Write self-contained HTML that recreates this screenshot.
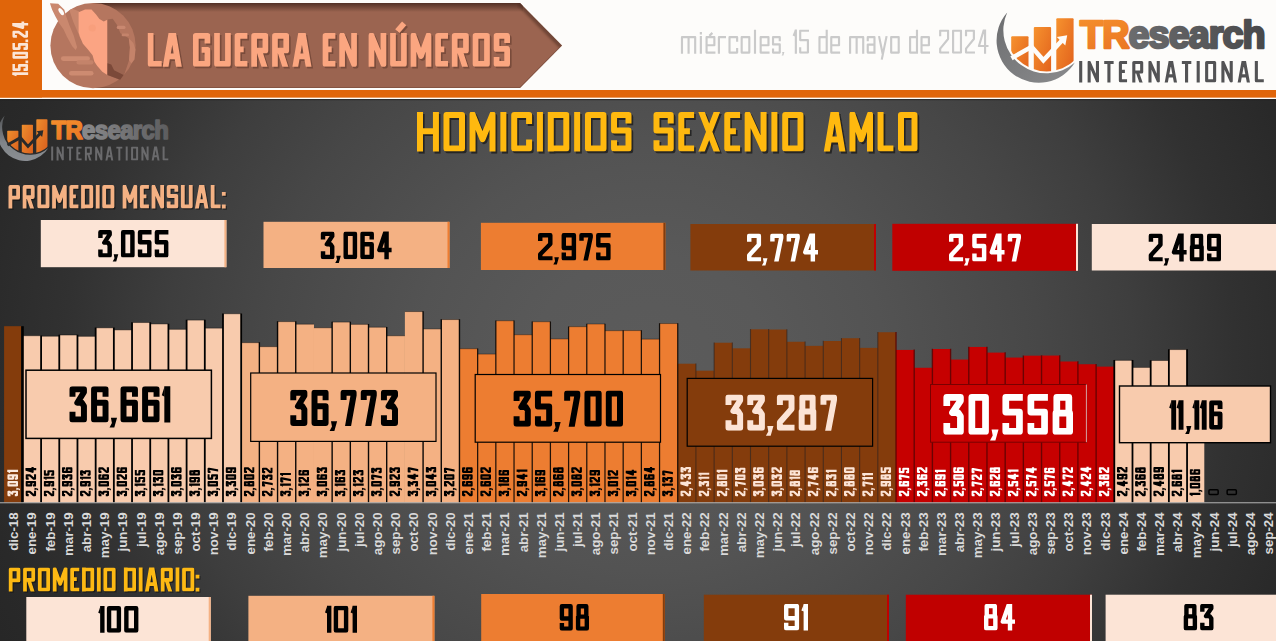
<!DOCTYPE html><html><head><meta charset="utf-8"><title>Homicidios Sexenio AMLO</title>
<style>html,body{margin:0;padding:0;background:#2b2b2b;overflow:hidden}svg{display:block}text{font-family:"Liberation Sans",sans-serif}</style></head><body>
<svg width="1276" height="641" viewBox="0 0 1276 641">
<defs>
<radialGradient id="pg" gradientUnits="userSpaceOnUse" cx="650" cy="360" r="780" gradientTransform="translate(0 360) scale(1 .9) translate(0 -360)">
<stop offset="0" stop-color="#5b5b5b"/><stop offset=".15" stop-color="#595959"/><stop offset=".3" stop-color="#535353"/><stop offset=".5" stop-color="#474747"/><stop offset=".62" stop-color="#3e3e3e"/><stop offset=".75" stop-color="#313131"/><stop offset=".87" stop-color="#292929"/><stop offset="1" stop-color="#242424"/></radialGradient>
<linearGradient id="bt" x1="0" y1="0" x2="0" y2="1"><stop offset="0" stop-color="#4e2d22" stop-opacity=".95"/><stop offset="1" stop-color="#4e2d22" stop-opacity="0"/></linearGradient>
<linearGradient id="og" x1="0" y1="0" x2="1" y2="1"><stop offset="0" stop-color="#f6922e"/><stop offset="1" stop-color="#e1601c"/></linearGradient>
<linearGradient id="cg" x1="0" y1="0" x2="1" y2="1"><stop offset="0" stop-color="#6d6e70"/><stop offset="1" stop-color="#8a8b8d"/></linearGradient>
<linearGradient id="cg2" x1="0" y1="0" x2="0" y2="1"><stop offset="0" stop-color="#55575a"/><stop offset=".6" stop-color="#84888d"/><stop offset="1" stop-color="#8e9297"/></linearGradient>
<linearGradient id="tg" gradientUnits="userSpaceOnUse" x1="80" y1="0" x2="170" y2="0"><stop offset="0" stop-color="#8b8b8d"/><stop offset="1" stop-color="#5c5c5e"/></linearGradient>
<linearGradient id="tg1" gradientUnits="userSpaceOnUse" x1="1125" y1="0" x2="1265" y2="0"><stop offset="0" stop-color="#6c6d6f"/><stop offset="1" stop-color="#48484a"/></linearGradient>
<filter id="sb" x="-5%" y="-30%" width="110%" height="170%"><feGaussianBlur stdDeviation=".7"/></filter>
<filter id="sh" x="-5%" y="-20%" width="110%" height="150%"><feGaussianBlur stdDeviation="1.1"/></filter>
<clipPath id="ban"><path d="M93 3H520L562 45.5L520 88H93Z"/></clipPath>
</defs>
<rect x="0" y="0" width="1276" height="99" fill="#fdfcfa"/><rect x="0" y="0" width="42" height="98" fill="#e0650a"/><rect x="0" y="90" width="1276" height="7.8" fill="#e0650a"/><path d="M93 3H520L562 45.5L520 88H93Z" fill="#9b6450"/><g clip-path="url(#ban)"><rect x="93" y="3" width="430" height="9" fill="url(#bt)"/><path d="M520 3L562 45.5" stroke="#4e2d22" stroke-width="7" opacity=".55" filter="url(#sh)"/><path d="M93 88H520L562 45.5" fill="none" stroke="#6b4031" stroke-width="1.6" opacity=".6"/></g><circle cx="93" cy="45.6" r="42.6" fill="#b5765f"/><polygon points="49.93,3.32 58.23,3.84 64.34,9.78 66.26,16.59 69.41,25.33 73.77,35.81 77.09,47.16 75.69,49.96 72.2,46.29 66.96,36.68 63.47,29.26 59.1,22.88 55.43,16.59 52.11,9.78" fill="#ca886e" /><ellipse cx="61.2" cy="11.62" rx="1.9" ry="4.1" transform="rotate(-33 61.2 11.62)" fill="#fdfcfa"/><polygon points="69.41,10.31 72.2,8.73 79.01,11.18 79.19,34.93 83.12,41.05 80.5,38.43 76.74,29.69 73.25,21.83 70.89,14.85" fill="#c8866c" /><polygon points="78.62,12.21 85.08,9.48 91.54,9.48 95.85,14.36 99.44,18.95 103.75,21.54 107.34,19.82 107.34,74.96 102.31,71.8 97.28,66.05 94.41,61.75 92.55,55.28 87.95,49.54 82.92,43.8 79.62,35.9 78.62,32.31" fill="#fba483" /><circle cx="92.26" cy="28" r="3.6" fill="#f79d7b" opacity=".8"/><polygon points="107.53,19.52 112.7,18.66 116.72,24.4 120.45,33.3 128.77,38.18 129.92,47.37 129.06,60.28 124.18,74.64 119.87,79.8 107.53,74.92" fill="#9b6450" /><polygon points="107.53,63.15 111.26,64.59 114.13,70.33 123.61,74.92 120.16,79.8 107.53,74.92" fill="#7b4939" /><rect x="116.72" y="25.84" width="8.8" height="3.2" rx="1.6" fill="#c98870"/><rect x="121.6" y="33.59" width="7.4" height="2.6" rx="1.3" fill="#c4836b"/><polygon points="128.77,38.18 133.37,43.06 135.52,49.52 134.51,59.57 131.36,63.44 129.06,60.28 129.92,47.37" fill="#c4836a" /><rect x="60.95" y="56.29" width="29" height="4.6" rx="2.3" fill="#cd8b71"/><rect x="76.46" y="60.31" width="17" height="4.2" rx="2.1" fill="#c4836a"/><rect x="69" y="70.94" width="24.5" height="4.6" rx="2.3" fill="#cd8b71"/><clipPath id="c1"><rect x="145.8" y="33.1" width="366.2" height="33.7"/></clipPath><g transform="translate(1.6 1.8)" stroke="#5e3729" color="#5e3729" opacity="0.55" filter="url(#sb)" fill="none" stroke-width="5.7" stroke-linejoin="round" stroke-linecap="butt" ><g clip-path="url(#c1)"><path d="M150.65 30.35L150.65 63.95L161.72 63.95M164.89 70.95L172.26 28.11L179.64 70.95M168.33 56.39L176.19 56.39M207.43 43.51L207.43 35.95L195.82 35.95L195.82 63.95L207.43 63.95L207.43 49.95L201.62 49.95M217 30.35L217 63.95L227.94 63.95L227.94 30.35M247.39 35.95L237.51 35.95L237.51 63.95L247.39 63.95M237.51 49.39L243.7 49.39M254.12 69.55L254.12 35.95L265.39 35.95L265.39 50.51L254.12 50.51M259.19 50.51L265.84 70.95M274.96 69.55L274.96 35.95L286.23 35.95L286.23 50.51L274.96 50.51M280.03 50.51L286.68 70.95M294.58 70.95L301.95 28.11L309.33 70.95M298.02 56.39L305.89 56.39M335.39 35.95L325.51 35.95L325.51 63.95L335.39 63.95M325.51 49.39L331.7 49.39M342.11 69.55L342.11 35.39L354.06 64.51L354.06 30.35M371.47 69.55L371.47 35.39L383.43 64.51L383.43 30.35M393 30.35L393 63.95L403.93 63.95L403.93 30.35M413.51 69.55L413.51 35.39L421.01 56.11L428.51 35.39L428.51 69.55M447.97 35.95L438.09 35.95L438.09 63.95L447.97 63.95M438.09 49.39L444.27 49.39M454.69 69.55L454.69 35.95L465.97 35.95L465.97 50.51L454.69 50.51M459.77 50.51L466.42 70.95M475.54 35.95L486.98 35.95L486.98 63.95L475.54 63.95ZM507.15 42.95L507.15 35.95L496.56 35.95L496.56 48.97L507.15 48.97L507.15 63.95L496.56 63.95L496.56 56.95"/></g><path d="M397.33 31.11L404.17 23.41"/></g><g stroke="#fba680" color="#fba680" fill="none" stroke-width="5.7" stroke-linejoin="round" stroke-linecap="butt" ><g clip-path="url(#c1)"><path d="M150.65 30.35L150.65 63.95L161.72 63.95M164.89 70.95L172.26 28.11L179.64 70.95M168.33 56.39L176.19 56.39M207.43 43.51L207.43 35.95L195.82 35.95L195.82 63.95L207.43 63.95L207.43 49.95L201.62 49.95M217 30.35L217 63.95L227.94 63.95L227.94 30.35M247.39 35.95L237.51 35.95L237.51 63.95L247.39 63.95M237.51 49.39L243.7 49.39M254.12 69.55L254.12 35.95L265.39 35.95L265.39 50.51L254.12 50.51M259.19 50.51L265.84 70.95M274.96 69.55L274.96 35.95L286.23 35.95L286.23 50.51L274.96 50.51M280.03 50.51L286.68 70.95M294.58 70.95L301.95 28.11L309.33 70.95M298.02 56.39L305.89 56.39M335.39 35.95L325.51 35.95L325.51 63.95L335.39 63.95M325.51 49.39L331.7 49.39M342.11 69.55L342.11 35.39L354.06 64.51L354.06 30.35M371.47 69.55L371.47 35.39L383.43 64.51L383.43 30.35M393 30.35L393 63.95L403.93 63.95L403.93 30.35M413.51 69.55L413.51 35.39L421.01 56.11L428.51 35.39L428.51 69.55M447.97 35.95L438.09 35.95L438.09 63.95L447.97 63.95M438.09 49.39L444.27 49.39M454.69 69.55L454.69 35.95L465.97 35.95L465.97 50.51L454.69 50.51M459.77 50.51L466.42 70.95M475.54 35.95L486.98 35.95L486.98 63.95L475.54 63.95ZM507.15 42.95L507.15 35.95L496.56 35.95L496.56 48.97L507.15 48.97L507.15 63.95L496.56 63.95L496.56 56.95"/></g><path d="M397.33 31.11L404.17 23.41"/></g><g transform="translate(20.2 75.4) rotate(-90)"><clipPath id="c2"><rect x="-2" y="-7.95" width="57.8" height="15.9"/></clipPath><g stroke="#fbe5d6" color="#fbe5d6" fill="none" stroke-width="2.7" stroke-linejoin="round" stroke-linecap="butt" ><g clip-path="url(#c2)"><path d="M1.69 -9.24L1.69 9.24M11.33 -6.6L5.76 -6.6L5.76 -0.92L9.98 -0.92L9.98 6.6L5.76 6.6L5.76 3.3M18.03 -6.6L22.25 -6.6L22.25 6.6L18.03 6.6ZM32.35 -6.6L26.78 -6.6L26.78 -0.92L31 -0.92L31 6.6L26.78 6.6L26.78 3.3M39.05 -3.3L39.05 -6.6L43.28 -6.6L43.28 -1.58L39.05 4.22L39.05 6.6L44.63 6.6M51.15 -9.24L51.15 9.24M51.15 -9.5L47.8 2.64L53.8 2.64"/></g><path d="M13.59 5.25V7.95M34.62 5.25V7.95"/><path d="M0.64 -7.95L-0.78 -3.98L0.64 -3.34Z" fill="currentColor" stroke="none"/></g></g><clipPath id="c3"><rect x="678.9" y="26.8" width="107.3" height="35.8"/></clipPath><g stroke="#cacaca" color="#cacaca" fill="none" stroke-width="2.15" stroke-linejoin="round" stroke-linecap="butt" ><g clip-path="url(#c3)"><path d="M681.98 53.7L681.98 37.18L688.58 37.18L688.58 53.7M688.58 37.18L695.18 37.18L695.18 53.7M700.87 36.1L700.87 53.7M715.43 52.62L706.56 52.62L706.56 37.18L714.36 37.18L714.36 45.21L706.56 45.21M718.91 53.7L718.91 37.18L726.03 37.18M737.13 41.81L737.13 37.18L729.51 37.18L729.51 52.62L737.13 52.62L737.13 47.99M741.68 37.18L749.3 37.18L749.3 52.62L741.68 52.62ZM754.99 29.8L754.99 53.7M769.55 52.62L760.68 52.62L760.68 37.18L768.48 37.18L768.48 45.21L760.68 45.21M779.78 41.35L779.78 37.18L773.03 37.18L773.03 44.44L779.78 44.44L779.78 52.62L773.03 52.62L773.03 48.45"/></g><path d="M700.87 32.02V34.38M709.38 35.88L712.39 32.88"/><path d="M782.16 52.02H784.37L783.38 55.53H781.66L782.52 53.96Z" fill="currentColor" stroke="none"/></g><clipPath id="c4"><rect x="790.6" y="29.6" width="20.4" height="24.1"/></clipPath><g stroke="#cacaca" color="#cacaca" fill="none" stroke-width="2.15" stroke-linejoin="round" stroke-linecap="butt" ><g clip-path="url(#c4)"><path d="M795.86 26.29L795.86 57.02M809 30.68L800.19 30.68L800.19 40.11L807.92 40.11L807.92 52.62L800.19 52.62L800.19 47.14"/></g><path d="M795.09 29.6L792.6 35.62L795.09 36.59Z" fill="currentColor" stroke="none"/></g><clipPath id="c5"><rect x="816.4" y="26.8" width="25.7" height="35.8"/></clipPath><g stroke="#cacaca" color="#cacaca" fill="none" stroke-width="2.15" stroke-linejoin="round" stroke-linecap="butt" ><g clip-path="url(#c5)"><path d="M826.71 29.8L826.71 53.7M826.71 37.18L819.48 37.18L819.48 52.62L826.71 52.62M840.1 52.62L831.26 52.62L831.26 37.18L839.02 37.18L839.02 45.21L831.26 45.21"/></g></g><clipPath id="c6"><rect x="847" y="26.8" width="54.8" height="35.8"/></clipPath><g stroke="#cacaca" color="#cacaca" fill="none" stroke-width="2.15" stroke-linejoin="round" stroke-linecap="butt" ><g clip-path="url(#c6)"><path d="M850.08 53.7L850.08 37.18L856.64 37.18L856.64 53.7M856.64 37.18L863.21 37.18L863.21 53.7M867.76 41.35L867.76 37.18L874.47 37.18L874.47 53.7M874.47 44.59L867.76 44.59L867.76 52.62L874.47 52.62M879.02 36.1L882.66 53.7M886.6 36.1L881.75 59.6M891.15 37.18L898.72 37.18L898.72 52.62L891.15 52.62Z"/></g></g><clipPath id="c7"><rect x="907" y="26.8" width="25" height="35.8"/></clipPath><g stroke="#cacaca" color="#cacaca" fill="none" stroke-width="2.15" stroke-linejoin="round" stroke-linecap="butt" ><g clip-path="url(#c7)"><path d="M916.97 29.8L916.97 53.7M916.97 37.18L910.08 37.18L910.08 52.62L916.97 52.62M930 52.62L921.52 52.62L921.52 37.18L928.92 37.18L928.92 45.21L921.52 45.21"/></g></g><clipPath id="c8"><rect x="937.1" y="29.6" width="53.4" height="24.1"/></clipPath><g stroke="#cacaca" color="#cacaca" fill="none" stroke-width="2.15" stroke-linejoin="round" stroke-linecap="butt" ><g clip-path="url(#c8)"><path d="M940.18 36.16L940.18 30.68L948.05 30.68L948.05 39.02L940.18 48.67L940.18 52.62L949.12 52.62M953.1 30.68L960.97 30.68L960.97 52.62L953.1 52.62ZM966.02 36.16L966.02 30.68L973.89 30.68L973.89 39.02L966.02 48.67L966.02 52.62L974.96 52.62M985.05 26.29L985.05 57.02M985.05 25.85L978.94 46.04L988.5 46.04"/></g></g><path d="M1007.2 12.4A42.3 42.3 0 1 0 1074.9 62.6A43.1 43.1 0 0 1 1007.2 12.4Z" fill="url(#cg)"/><clipPath id="lc"><circle cx="1046.6" cy="30.2" r="41.2"/></clipPath><g clip-path="url(#lc)" fill="url(#og)"><rect x="1011.2" y="36.2" width="17.3" height="40" rx="1"/><rect x="1033.8" y="26.9" width="17.3" height="50" rx="1"/><rect x="1056.3" y="18.3" width="17.3" height="55" rx="1"/></g><path d="M1011.5 58.2L1031.6 46.8L1043.4 60.3L1062.2 40.2" fill="none" stroke="#fdfcfa" stroke-width="4.5" stroke-linejoin="miter"/><path d="M1067.2 35.2L1056.8 37L1065.3 45.6Z" fill="#fdfcfa"/><text x="1080.1" y="47.5" font-size="38.6" font-weight="bold" letter-spacing="-1" textLength="184.6" lengthAdjust="spacingAndGlyphs" stroke-width="2.5" stroke-linejoin="round"><tspan fill="url(#og)" stroke="url(#og)">TR</tspan><tspan fill="url(#tg1)" stroke="url(#tg1)">esearch</tspan></text><clipPath id="c9"><rect x="1077" y="61" width="188.8" height="21.4"/></clipPath><g stroke="#535355" color="#535355" fill="none" stroke-width="3.1" stroke-linejoin="round" stroke-linecap="butt" ><g clip-path="url(#c9)"><path d="M1080.7 58.89L1080.7 84.51M1089.15 84.51L1089.15 62.18L1097.46 81.22L1097.46 58.89M1104.21 62.55L1113.64 62.55M1108.92 62.55L1108.92 84.51M1127.06 62.55L1120.39 62.55L1120.39 80.85L1127.06 80.85M1120.39 71.33L1124.9 71.33M1133.81 84.51L1133.81 62.55L1141.68 62.55L1141.68 72.07L1133.81 72.07M1137.35 72.07L1142 85.43M1149.98 84.51L1149.98 62.18L1158.29 81.22L1158.29 58.89M1165.74 85.43L1170.85 57.43L1175.97 85.43M1168.12 75.91L1173.58 75.91M1181.86 62.55L1191.3 62.55M1186.58 62.55L1186.58 84.51M1198.2 58.89L1198.2 84.51M1206.65 62.55L1214.62 62.55L1214.62 80.85L1206.65 80.85ZM1222.92 84.51L1222.92 62.18L1231.23 81.22L1231.23 58.89M1238.68 85.43L1243.79 57.43L1248.91 85.43M1241.07 75.91L1246.52 75.91M1256.36 58.89L1256.36 80.85L1263.8 80.85"/></g></g>
<rect x="0" y="99" width="1276" height="542" fill="url(#pg)"/><rect x="0" y="97.8" width="1276" height="1.3" fill="#fdfcfa"/><rect x="0" y="99" width="1276" height="1.2" fill="#1c1c1c" opacity=".7"/>
<g transform="translate(-645 107.5) scale(0.645)" opacity=".96"><path d="M1007.2 12.4A42.3 42.3 0 1 0 1074.9 62.6A43.1 43.1 0 0 1 1007.2 12.4Z" fill="url(#cg2)"/><clipPath id="lc2"><circle cx="1046.6" cy="30.2" r="41.2"/></clipPath><g clip-path="url(#lc2)" fill="url(#og)"><rect x="1011.2" y="36.2" width="17.3" height="40" rx="1"/><rect x="1033.8" y="26.9" width="17.3" height="50" rx="1"/><rect x="1056.3" y="18.3" width="17.3" height="55" rx="1"/></g><path d="M1011.5 58.2L1031.6 46.8L1043.4 60.3L1062.2 40.2" fill="none" stroke="#2b2b2b" stroke-width="4.5" stroke-linejoin="miter"/><path d="M1067.2 35.2L1056.8 37L1065.3 45.6Z" fill="#2b2b2b"/></g><text x="51.4" y="138.7" font-size="25.6" font-weight="bold" letter-spacing="-.7" textLength="116.8" lengthAdjust="spacingAndGlyphs" stroke-width="1.6" stroke-linejoin="round"><tspan fill="url(#og)" stroke="url(#og)">TR</tspan><tspan fill="url(#tg)" stroke="url(#tg)">esearch</tspan></text><clipPath id="c10"><rect x="49.1" y="146.6" width="121.2" height="13.8"/></clipPath><g stroke="#6a6a6c" color="#6a6a6c" fill="none" stroke-width="2" stroke-linejoin="round" stroke-linecap="butt" ><g clip-path="url(#c10)"><path d="M52.18 145.24L52.18 161.76M57.56 161.76L57.56 147.36L62.79 159.64L62.79 145.24M67.09 147.6L73.07 147.6M70.08 147.6L70.08 161.76M81.58 147.6L77.37 147.6L77.37 159.4L81.58 159.4M77.37 153.26L80.2 153.26M85.88 161.76L85.88 147.6L90.84 147.6L90.84 153.74L85.88 153.74M88.11 153.74L91.03 162.35M96.14 161.76L96.14 147.36L101.37 159.64L101.37 145.24M106.13 162.35L109.35 144.3L112.57 162.35M107.63 156.21L111.07 156.21M116.34 147.6L122.32 147.6M119.33 147.6L119.33 161.76M126.7 145.24L126.7 161.76M132.07 147.6L137.1 147.6L137.1 159.4L132.07 159.4ZM142.4 161.76L142.4 147.36L147.63 159.64L147.63 145.24M152.39 162.35L155.61 144.3L158.84 162.35M153.89 156.21L157.33 156.21M163.6 145.24L163.6 159.4L168.3 159.4"/></g></g>
<clipPath id="c11"><rect x="415" y="112" width="218.5" height="39.6"/></clipPath><g transform="translate(1.7 1.9)" stroke="#0c0c0c" color="#0c0c0c" opacity="0.62" filter="url(#sb)" fill="none" stroke-width="6" stroke-linejoin="round" stroke-linecap="butt" ><g clip-path="url(#c11)"><path d="M420 108.28L420 155.32M435.93 108.28L435.93 155.32M420 131.13L435.93 131.13M446.48 115L461.99 115L461.99 148.6L446.48 148.6ZM472.54 155.32L472.54 114.33L482.53 139.19L492.51 114.33L492.51 155.32M503.37 108.28L503.37 155.32M529.09 124.07L529.09 115L514.22 115L514.22 148.6L529.09 148.6L529.09 139.53M539.94 108.28L539.94 155.32M550.79 108.28L550.79 155.32M550.79 115L566.3 115L566.3 148.6L550.79 148.6M577.15 108.28L577.15 155.32M588 115L603.51 115L603.51 148.6L588 148.6ZM628.5 123.4L628.5 115L614.06 115L614.06 130.62L628.5 130.62L628.5 148.6L614.06 148.6L614.06 140.2"/></g></g><g stroke="#ffb90f" color="#ffb90f" fill="none" stroke-width="6" stroke-linejoin="round" stroke-linecap="butt" ><g clip-path="url(#c11)"><path d="M420 108.28L420 155.32M435.93 108.28L435.93 155.32M420 131.13L435.93 131.13M446.48 115L461.99 115L461.99 148.6L446.48 148.6ZM472.54 155.32L472.54 114.33L482.53 139.19L492.51 114.33L492.51 155.32M503.37 108.28L503.37 155.32M529.09 124.07L529.09 115L514.22 115L514.22 148.6L529.09 148.6L529.09 139.53M539.94 108.28L539.94 155.32M550.79 108.28L550.79 155.32M550.79 115L566.3 115L566.3 148.6L550.79 148.6M577.15 108.28L577.15 155.32M588 115L603.51 115L603.51 148.6L588 148.6ZM628.5 123.4L628.5 115L614.06 115L614.06 130.62L628.5 130.62L628.5 148.6L614.06 148.6L614.06 140.2"/></g></g><clipPath id="c12"><rect x="651.5" y="112" width="154" height="39.6"/></clipPath><g transform="translate(1.7 1.9)" stroke="#0c0c0c" color="#0c0c0c" opacity="0.62" filter="url(#sb)" fill="none" stroke-width="6" stroke-linejoin="round" stroke-linecap="butt" ><g clip-path="url(#c12)"><path d="M670.74 123.4L670.74 115L656.5 115L656.5 130.62L670.74 130.62L670.74 148.6L656.5 148.6L656.5 140.2M694.1 115L681.29 115L681.29 148.6L694.1 148.6M681.29 131.13L689.92 131.13M699.84 107.61L718.54 155.99M718.54 107.61L699.84 155.99M740.09 115L727.28 115L727.28 148.6L740.09 148.6M727.28 131.13L735.92 131.13M747.65 155.32L747.65 114.33L763.57 149.27L763.57 108.28M774.39 108.28L774.39 155.32M785.21 115L800.5 115L800.5 148.6L785.21 148.6Z"/></g></g><g stroke="#ffb90f" color="#ffb90f" fill="none" stroke-width="6" stroke-linejoin="round" stroke-linecap="butt" ><g clip-path="url(#c12)"><path d="M670.74 123.4L670.74 115L656.5 115L656.5 130.62L670.74 130.62L670.74 148.6L656.5 148.6L656.5 140.2M694.1 115L681.29 115L681.29 148.6L694.1 148.6M681.29 131.13L689.92 131.13M699.84 107.61L718.54 155.99M718.54 107.61L699.84 155.99M740.09 115L727.28 115L727.28 148.6L740.09 148.6M727.28 131.13L735.92 131.13M747.65 155.32L747.65 114.33L763.57 149.27L763.57 108.28M774.39 108.28L774.39 155.32M785.21 115L800.5 115L800.5 148.6L785.21 148.6Z"/></g></g><clipPath id="c13"><rect x="822.4" y="112" width="97.1" height="39.6"/></clipPath><g transform="translate(1.7 1.9)" stroke="#0c0c0c" color="#0c0c0c" opacity="0.62" filter="url(#sb)" fill="none" stroke-width="6" stroke-linejoin="round" stroke-linecap="butt" ><g clip-path="url(#c13)"><path d="M825.95 157L834.64 105.59L843.34 157M830.01 139.53L839.28 139.53M852.44 155.32L852.44 114.33L861.23 139.19L870.02 114.33L870.02 155.32M880.58 108.28L880.58 148.6L893.42 148.6M900.98 115L914.5 115L914.5 148.6L900.98 148.6Z"/></g></g><g stroke="#ffb90f" color="#ffb90f" fill="none" stroke-width="6" stroke-linejoin="round" stroke-linecap="butt" ><g clip-path="url(#c13)"><path d="M825.95 157L834.64 105.59L843.34 157M830.01 139.53L839.28 139.53M852.44 155.32L852.44 114.33L861.23 139.19L870.02 114.33L870.02 155.32M880.58 108.28L880.58 148.6L893.42 148.6M900.98 115L914.5 115L914.5 148.6L900.98 148.6Z"/></g></g><clipPath id="c14"><rect x="6.5" y="185" width="221.2" height="23.4"/></clipPath><g transform="translate(1.2 1.3)" stroke="#111" color="#111" opacity="0.55" filter="url(#sb)" fill="none" stroke-width="3.8" stroke-linejoin="round" stroke-linecap="butt" ><g clip-path="url(#c14)"><path d="M10.4 210.42L10.4 186.9L18.09 186.9L18.09 197.68L10.4 197.68M24.58 210.42L24.58 186.9L32.76 186.9L32.76 197.09L24.58 197.09M28.26 197.09L33.08 211.4M39.25 186.9L47.54 186.9L47.54 206.5L39.25 206.5ZM54.03 210.42L54.03 186.51L59.43 201.01L64.84 186.51L64.84 210.42M78.41 186.9L71.33 186.9L71.33 206.5L78.41 206.5M71.33 196.31L75.89 196.31M83 182.98L83 210.42M83 186.9L91.29 186.9L91.29 206.5L83 206.5M97.74 182.98L97.74 210.42M104.18 186.9L112.48 186.9L112.48 206.5L104.18 206.5ZM124.54 210.42L124.54 186.51L129.94 201.01L135.34 186.51L135.34 210.42M148.91 186.9L141.83 186.9L141.83 206.5L148.91 206.5M141.83 196.31L146.39 196.31M153.5 210.42L153.5 186.51L162.16 206.89L162.16 182.98M176.34 191.8L176.34 186.9L168.65 186.9L168.65 196.01L176.34 196.01L176.34 206.5L168.65 206.5L168.65 201.6M182.83 182.98L182.83 206.5L190.76 206.5L190.76 182.98M196.37 211.4L201.7 181.41L207.04 211.4M198.86 201.21L204.55 201.21M212.64 182.98L212.64 206.5L220.55 206.5"/></g><path d="M223.8 204.6V208.4M223.8 192.02V195.82"/></g><g stroke="#f4b183" color="#f4b183" fill="none" stroke-width="3.8" stroke-linejoin="round" stroke-linecap="butt" ><g clip-path="url(#c14)"><path d="M10.4 210.42L10.4 186.9L18.09 186.9L18.09 197.68L10.4 197.68M24.58 210.42L24.58 186.9L32.76 186.9L32.76 197.09L24.58 197.09M28.26 197.09L33.08 211.4M39.25 186.9L47.54 186.9L47.54 206.5L39.25 206.5ZM54.03 210.42L54.03 186.51L59.43 201.01L64.84 186.51L64.84 210.42M78.41 186.9L71.33 186.9L71.33 206.5L78.41 206.5M71.33 196.31L75.89 196.31M83 182.98L83 210.42M83 186.9L91.29 186.9L91.29 206.5L83 206.5M97.74 182.98L97.74 210.42M104.18 186.9L112.48 186.9L112.48 206.5L104.18 206.5ZM124.54 210.42L124.54 186.51L129.94 201.01L135.34 186.51L135.34 210.42M148.91 186.9L141.83 186.9L141.83 206.5L148.91 206.5M141.83 196.31L146.39 196.31M153.5 210.42L153.5 186.51L162.16 206.89L162.16 182.98M176.34 191.8L176.34 186.9L168.65 186.9L168.65 196.01L176.34 196.01L176.34 206.5L168.65 206.5L168.65 201.6M182.83 182.98L182.83 206.5L190.76 206.5L190.76 182.98M196.37 211.4L201.7 181.41L207.04 211.4M198.86 201.21L204.55 201.21M212.64 182.98L212.64 206.5L220.55 206.5"/></g><path d="M223.8 204.6V208.4M223.8 192.02V195.82"/></g><clipPath id="c15"><rect x="6.8" y="567.4" width="194.6" height="24.1"/></clipPath><g transform="translate(1.2 1.3)" stroke="#111" color="#111" opacity="0.55" filter="url(#sb)" fill="none" stroke-width="3.75" stroke-linejoin="round" stroke-linecap="butt" ><g clip-path="url(#c15)"><path d="M10.68 593.7L10.68 569.27L18.47 569.27L18.47 580.47L10.68 580.47M24.99 593.7L24.99 569.27L33.26 569.27L33.26 579.86L24.99 579.86M28.71 579.86L33.59 594.71M39.78 569.27L48.18 569.27L48.18 589.62L39.78 589.62ZM54.7 593.7L54.7 568.87L60.16 583.93L65.61 568.87L65.61 593.7M79.28 569.27L72.14 569.27L72.14 589.62L79.28 589.62M72.14 579.04L76.77 579.04M83.92 565.2L83.92 593.7M83.92 569.27L92.32 569.27L92.32 589.62L83.92 589.62M98.83 565.2L98.83 593.7M105.34 569.27L113.73 569.27L113.73 589.62L105.34 589.62ZM125.78 565.2L125.78 593.7M125.78 569.27L134.17 569.27L134.17 589.62L125.78 589.62M140.68 565.2L140.68 593.7M146.29 594.71L151.69 563.58L157.08 594.71M148.81 584.13L154.56 584.13M162.7 593.7L162.7 569.27L170.98 569.27L170.98 579.86L162.7 579.86M166.43 579.86L171.31 594.71M177.49 565.2L177.49 593.7M184 569.27L192.39 569.27L192.39 589.62L184 589.62Z"/></g><path d="M197.52 587.75V591.5M197.52 574.63V578.38"/></g><g stroke="#fdb913" color="#fdb913" fill="none" stroke-width="3.75" stroke-linejoin="round" stroke-linecap="butt" ><g clip-path="url(#c15)"><path d="M10.68 593.7L10.68 569.27L18.47 569.27L18.47 580.47L10.68 580.47M24.99 593.7L24.99 569.27L33.26 569.27L33.26 579.86L24.99 579.86M28.71 579.86L33.59 594.71M39.78 569.27L48.18 569.27L48.18 589.62L39.78 589.62ZM54.7 593.7L54.7 568.87L60.16 583.93L65.61 568.87L65.61 593.7M79.28 569.27L72.14 569.27L72.14 589.62L79.28 589.62M72.14 579.04L76.77 579.04M83.92 565.2L83.92 593.7M83.92 569.27L92.32 569.27L92.32 589.62L83.92 589.62M98.83 565.2L98.83 593.7M105.34 569.27L113.73 569.27L113.73 589.62L105.34 589.62ZM125.78 565.2L125.78 593.7M125.78 569.27L134.17 569.27L134.17 589.62L125.78 589.62M140.68 565.2L140.68 593.7M146.29 594.71L151.69 563.58L157.08 594.71M148.81 584.13L154.56 584.13M162.7 593.7L162.7 569.27L170.98 569.27L170.98 579.86L162.7 579.86M166.43 579.86L171.31 594.71M177.49 565.2L177.49 593.7M184 569.27L192.39 569.27L192.39 589.62L184 589.62Z"/></g><path d="M197.52 587.75V591.5M197.52 574.63V578.38"/></g>
<rect x="40.8" y="220" width="185.6" height="47.2" fill="#fce4d6"/><rect x="224.4" y="220" width="2" height="47.2" fill="#f4b183"/><clipPath id="c16"><rect x="96.2" y="230" width="74.2" height="27.6"/></clipPath><g stroke="#000" color="#000" fill="none" stroke-width="4.45" stroke-linejoin="round" stroke-linecap="butt" ><g clip-path="url(#c16)"><path d="M100.42 238.01L100.42 232.22L109.67 232.22L109.67 234.54L104.31 242.64L108.01 242.64L109.67 245.19L109.67 255.38L100.42 255.38L100.42 249.59M123.18 232.22L132.43 232.22L132.43 255.38L123.18 255.38ZM151.53 232.22L140.05 232.22L140.05 242.18L149.3 242.18L149.3 255.38L140.05 255.38L140.05 249.59M168.4 232.22L156.93 232.22L156.93 242.18L166.17 242.18L166.17 255.38L156.93 255.38L156.93 249.59"/></g><path d="M113.71 254.13H118.29L116.25 261.38H112.69L114.47 258.13Z" fill="currentColor" stroke="none"/></g><rect x="263.5" y="221.8" width="186" height="46.2" fill="#f4b183"/><rect x="447.5" y="221.8" width="2" height="46.2" fill="#ed7d31"/><clipPath id="c17"><rect x="318.8" y="231.6" width="74.8" height="27.6"/></clipPath><g stroke="#000" color="#000" fill="none" stroke-width="4.45" stroke-linejoin="round" stroke-linecap="butt" ><g clip-path="url(#c17)"><path d="M323.03 239.61L323.03 233.82L332.22 233.82L332.22 236.14L326.89 244.24L330.56 244.24L332.22 246.79L332.22 256.97L323.03 256.97L323.03 251.19M345.72 233.82L354.91 233.82L354.91 256.97L345.72 256.97ZM371.72 239.61L371.72 233.82L362.53 233.82L362.53 256.97L371.72 256.97L371.72 244.24L362.53 244.24M386.57 229.19L386.57 261.6M386.57 228.73L379.35 250.03L391.6 250.03"/></g><path d="M336.25 255.73H340.83L338.79 262.98H335.23L337.01 259.73Z" fill="currentColor" stroke="none"/></g><rect x="480.9" y="222.8" width="184.5" height="47.2" fill="#ed7d31"/><rect x="663.4" y="222.8" width="2" height="47.2" fill="#843c0c"/><clipPath id="c18"><rect x="536" y="233" width="76.6" height="27.6"/></clipPath><g stroke="#000" color="#000" fill="none" stroke-width="4.45" stroke-linejoin="round" stroke-linecap="butt" ><g clip-path="url(#c18)"><path d="M540.23 241.01L540.23 235.22L550.3 235.22L550.3 244.02L540.23 254.21L540.23 258.38L552.52 258.38M563.8 252.59L563.8 258.38L573.87 258.38L573.87 235.22L563.8 235.22L563.8 247.96L573.87 247.96M581.5 240.78L581.5 235.22L590.68 235.22L590.68 237.08L584.62 265.32M610.6 235.22L598.3 235.22L598.3 245.18L608.37 245.18L608.37 258.38L598.3 258.38L598.3 252.59"/></g><path d="M554.33 257.13H558.92L556.87 264.38H553.31L555.09 261.13Z" fill="currentColor" stroke="none"/></g><rect x="690.4" y="224" width="185.6" height="46.5" fill="#843c0c"/><rect x="874" y="224" width="2" height="46.5" fill="#c00000"/><clipPath id="c19"><rect x="745" y="233.6" width="75" height="28"/></clipPath><g stroke="#fff" color="#fff" fill="none" stroke-width="4.45" stroke-linejoin="round" stroke-linecap="butt" ><g clip-path="url(#c19)"><path d="M749.23 241.71L749.23 235.82L758.85 235.82L758.85 244.77L749.23 255.14L749.23 259.38L761.08 259.38M772.42 241.48L772.42 235.82L781.18 235.82L781.18 237.71L775.4 266.44M788.85 241.48L788.85 235.82L797.62 235.82L797.62 237.71L791.83 266.44M812.84 231.11L812.84 264.08M812.84 230.64L805.29 252.31L818 252.31"/></g><path d="M762.91 258.13H767.49L765.44 265.38H761.88L763.66 262.13Z" fill="currentColor" stroke="none"/></g><rect x="892.3" y="223.8" width="185.7" height="47" fill="#c00000"/><rect x="1076" y="223.8" width="2" height="47" fill="#fce4d6"/><clipPath id="c20"><rect x="947" y="233.6" width="76" height="28"/></clipPath><g stroke="#fff" color="#fff" fill="none" stroke-width="4.45" stroke-linejoin="round" stroke-linecap="butt" ><g clip-path="url(#c20)"><path d="M951.23 241.71L951.23 235.82L960.89 235.82L960.89 244.77L951.23 255.14L951.23 259.38L963.11 259.38M986.34 235.82L974.45 235.82L974.45 245.95L984.11 245.95L984.11 259.38L974.45 259.38L974.45 253.49M999.36 231.11L999.36 264.08M999.36 230.64L991.78 252.31L1004.53 252.31M1009.98 241.48L1009.98 235.82L1018.77 235.82L1018.77 237.71L1012.97 266.44"/></g><path d="M964.94 258.13H969.53L967.48 265.38H963.92L965.7 262.13Z" fill="currentColor" stroke="none"/></g><rect x="1091.8" y="224" width="188.2" height="46.5" fill="#fce4d6"/><clipPath id="c21"><rect x="1146.7" y="233.6" width="76.3" height="28"/></clipPath><g stroke="#000" color="#000" fill="none" stroke-width="4.45" stroke-linejoin="round" stroke-linecap="butt" ><g clip-path="url(#c21)"><path d="M1150.92 241.71L1150.92 235.82L1160.45 235.82L1160.45 244.77L1150.92 255.14L1150.92 259.38L1162.67 259.38M1181.49 231.11L1181.49 264.08M1181.49 230.64L1174.02 252.31L1186.62 252.31M1192.63 235.82L1201.01 235.82L1201.01 246.78L1192.63 246.78ZM1192.06 246.78L1201.58 246.78L1201.58 259.38L1192.06 259.38ZM1209.25 253.49L1209.25 259.38L1218.78 259.38L1218.78 235.82L1209.25 235.82L1209.25 248.78L1218.78 248.78"/></g><path d="M1164.5 258.13H1169.09L1167.04 265.38H1163.48L1165.26 262.13Z" fill="currentColor" stroke="none"/></g>
<rect x="4.1" y="326.19" width="17.15" height="176.31" fill="#843c0c"/><rect x="22.9" y="335.72" width="18.24" height="166.78" fill="#f8cbad"/><rect x="41.09" y="336.23" width="18.24" height="166.27" fill="#f8cbad"/><rect x="59.28" y="335.03" width="18.24" height="167.47" fill="#f8cbad"/><rect x="77.47" y="336.34" width="18.24" height="166.16" fill="#f8cbad"/><rect x="95.66" y="327.84" width="18.24" height="174.66" fill="#f8cbad"/><rect x="113.85" y="329.9" width="18.24" height="172.6" fill="#f8cbad"/><rect x="132.04" y="322.54" width="18.24" height="179.96" fill="#f8cbad"/><rect x="150.23" y="323.96" width="18.24" height="178.54" fill="#f8cbad"/><rect x="168.42" y="329.33" width="18.24" height="173.17" fill="#f8cbad"/><rect x="186.61" y="320.09" width="18.24" height="182.41" fill="#f8cbad"/><rect x="204.8" y="328.13" width="18.24" height="174.37" fill="#f8cbad"/><rect x="222.99" y="313.75" width="18.24" height="188.75" fill="#f8cbad"/><rect x="241.18" y="342.67" width="18.24" height="159.83" fill="#f4b183"/><rect x="259.37" y="346.67" width="18.24" height="155.83" fill="#f4b183"/><rect x="277.56" y="321.63" width="18.24" height="180.87" fill="#f4b183"/><rect x="295.75" y="324.19" width="18.24" height="178.31" fill="#f4b183"/><rect x="313.94" y="327.79" width="18.24" height="174.71" fill="#f4b183"/><rect x="332.13" y="322.08" width="18.24" height="180.42" fill="#f4b183"/><rect x="350.32" y="324.36" width="18.24" height="178.14" fill="#f4b183"/><rect x="368.51" y="327.22" width="18.24" height="175.28" fill="#f4b183"/><rect x="386.7" y="335.77" width="18.24" height="166.73" fill="#f4b183"/><rect x="404.89" y="311.59" width="18.24" height="190.91" fill="#f4b183"/><rect x="423.08" y="328.93" width="18.24" height="173.57" fill="#f4b183"/><rect x="441.27" y="319.57" width="18.24" height="182.93" fill="#f4b183"/><rect x="459.46" y="348.72" width="18.24" height="153.78" fill="#ed7d31"/><rect x="477.65" y="354.08" width="18.24" height="148.42" fill="#ed7d31"/><rect x="495.84" y="320.77" width="18.24" height="181.73" fill="#ed7d31"/><rect x="514.03" y="334.75" width="18.24" height="167.75" fill="#ed7d31"/><rect x="532.22" y="321.74" width="18.24" height="180.76" fill="#ed7d31"/><rect x="550.41" y="338.91" width="18.24" height="163.59" fill="#ed7d31"/><rect x="568.6" y="326.7" width="18.24" height="175.8" fill="#ed7d31"/><rect x="586.79" y="324.02" width="18.24" height="178.48" fill="#ed7d31"/><rect x="604.98" y="330.7" width="18.24" height="171.8" fill="#ed7d31"/><rect x="623.17" y="330.58" width="18.24" height="171.92" fill="#ed7d31"/><rect x="641.36" y="339.14" width="18.24" height="163.36" fill="#ed7d31"/><rect x="659.55" y="323.57" width="18.24" height="178.93" fill="#ed7d31"/><rect x="677.74" y="363.72" width="18.24" height="138.78" fill="#843c0c"/><rect x="695.93" y="370.68" width="18.24" height="131.82" fill="#843c0c"/><rect x="714.12" y="342.73" width="18.24" height="159.77" fill="#843c0c"/><rect x="732.31" y="348.32" width="18.24" height="154.18" fill="#843c0c"/><rect x="750.5" y="329.33" width="18.24" height="173.17" fill="#843c0c"/><rect x="768.69" y="329.55" width="18.24" height="172.95" fill="#843c0c"/><rect x="786.88" y="341.76" width="18.24" height="160.74" fill="#843c0c"/><rect x="805.07" y="345.87" width="18.24" height="156.63" fill="#843c0c"/><rect x="823.26" y="341.02" width="18.24" height="161.48" fill="#843c0c"/><rect x="841.45" y="338.22" width="18.24" height="164.28" fill="#843c0c"/><rect x="859.64" y="347.86" width="18.24" height="154.64" fill="#843c0c"/><rect x="877.83" y="332.24" width="18.24" height="170.26" fill="#843c0c"/><rect x="896.02" y="349.92" width="18.24" height="152.58" fill="#c60000"/><rect x="914.21" y="367.77" width="18.24" height="134.73" fill="#c60000"/><rect x="932.4" y="349.01" width="18.24" height="153.49" fill="#c60000"/><rect x="950.59" y="359.56" width="18.24" height="142.94" fill="#c60000"/><rect x="968.78" y="346.95" width="18.24" height="155.55" fill="#c60000"/><rect x="986.97" y="352.6" width="18.24" height="149.9" fill="#c60000"/><rect x="1005.16" y="357.56" width="18.24" height="144.94" fill="#c60000"/><rect x="1023.35" y="355.68" width="18.24" height="146.82" fill="#c60000"/><rect x="1041.54" y="355.56" width="18.24" height="146.94" fill="#c60000"/><rect x="1059.73" y="361.5" width="18.24" height="141" fill="#c60000"/><rect x="1077.92" y="364.24" width="18.24" height="138.26" fill="#c60000"/><rect x="1096.11" y="366.63" width="18.24" height="135.87" fill="#c60000"/><rect x="1114.3" y="360.36" width="18.24" height="142.14" fill="#f8cbad"/><rect x="1132.49" y="367.43" width="18.24" height="135.07" fill="#f8cbad"/><rect x="1150.68" y="360.53" width="18.24" height="141.97" fill="#f8cbad"/><rect x="1168.87" y="349.58" width="18.24" height="152.92" fill="#f8cbad"/><rect x="1187.06" y="440.55" width="17.24" height="61.95" fill="#f8cbad"/><rect x="21.2" y="326.19" width="2.6" height="176.31" fill="#000"/><path d="M41.09 502.5V335.42M59.28 502.5V334.73M77.47 502.5V334.73M95.66 502.5V327.54M113.85 502.5V327.54M132.04 502.5V322.24M150.23 502.5V322.24M168.42 502.5V323.66M186.61 502.5V319.79M204.8 502.5V319.79M222.99 502.5V313.45M241.18 502.5V313.45M1114.3 502.5V360.06M1132.49 502.5V360.06M1150.68 502.5V360.23M1168.87 502.5V349.28M1187.06 502.5V349.28" stroke="#000" stroke-width="1.8" opacity="1" fill="none"/><path d="M259.37 502.5V342.37M277.56 502.5V321.33M295.75 502.5V321.33M332.13 502.5V321.78M350.32 502.5V321.78M368.51 502.5V324.06M386.7 502.5V326.92M423.08 502.5V311.29M441.27 502.5V319.27M459.46 502.5V319.27" stroke="#000" stroke-width="1.4" opacity="0.95" fill="none"/><path d="M477.65 502.5V348.42M495.84 502.5V320.47M514.03 502.5V320.47M532.22 502.5V321.44M550.41 502.5V321.44M568.6 502.5V326.4M586.79 502.5V323.72M604.98 502.5V323.72M623.17 502.5V330.28M641.36 502.5V330.28M659.55 502.5V323.27M677.74 502.5V323.27" stroke="#000" stroke-width="1.25" opacity="0.85" fill="none"/><path d="M695.93 502.5V363.42M714.12 502.5V342.43M732.31 502.5V342.43M750.5 502.5V329.03M768.69 502.5V329.03M786.88 502.5V329.25M805.07 502.5V341.46M823.26 502.5V340.72M841.45 502.5V337.92M859.64 502.5V337.92M877.83 502.5V331.94" stroke="#2e211b" stroke-width="1.1" opacity="0.62" fill="none"/><path d="M896.02 502.5V331.94M914.21 502.5V349.62M932.4 502.5V348.71M950.59 502.5V348.71M968.78 502.5V346.65M986.97 502.5V346.65M1005.16 502.5V352.3M1023.35 502.5V355.38M1041.54 502.5V355.26M1059.73 502.5V355.26M1077.92 502.5V361.2M1096.11 502.5V363.94" stroke="#5a0000" stroke-width="1.4" opacity="0.8" fill="none"/><path d="M22.9 335.72h18.19M41.09 336.23h18.19M59.28 335.03h18.19M77.47 336.34h18.19M95.66 327.84h18.19M113.85 329.9h18.19M132.04 322.54h18.19M150.23 323.96h18.19M168.42 329.33h18.19M186.61 320.09h18.19M204.8 328.13h18.19M222.99 313.75h18.19M1114.3 360.36h18.19M1132.49 367.43h18.19M1150.68 360.53h18.19M1168.87 349.58h18.19M1187.06 440.55h18.19" stroke="#000" stroke-width="0.5" opacity="0.8" fill="none"/><path d="M241.18 342.67h18.19M259.37 346.67h18.19M277.56 321.63h18.19M295.75 324.19h18.19M313.94 327.79h18.19M332.13 322.08h18.19M350.32 324.36h18.19M368.51 327.22h18.19M386.7 335.77h18.19M404.89 311.59h18.19M423.08 328.93h18.19M441.27 319.57h18.19" stroke="#000" stroke-width="0.5" opacity="0.76" fill="none"/><path d="M459.46 348.72h18.19M477.65 354.08h18.19M495.84 320.77h18.19M514.03 334.75h18.19M532.22 321.74h18.19M550.41 338.91h18.19M568.6 326.7h18.19M586.79 324.02h18.19M604.98 330.7h18.19M623.17 330.58h18.19M641.36 339.14h18.19M659.55 323.57h18.19" stroke="#000" stroke-width="0.5" opacity="0.68" fill="none"/><rect x="0" y="502.2" width="1276" height="1.1" fill="#bdbdbd" opacity=".85"/><g transform="translate(12.66 496.2) rotate(-90)"><clipPath id="c22"><rect x="-2" y="-5.4" width="30.39" height="10.8"/></clipPath><g stroke="#fbe9dd" color="#fbe9dd" fill="none" stroke-width="2.2" stroke-linejoin="round" stroke-linecap="butt" ><g clip-path="url(#c22)"><path d="M1.1 -2.15L1.1 -4.3L4.45 -4.3L4.45 -3.44L2.51 -0.43L3.84 -0.43L4.45 0.52L4.45 4.3L1.1 4.3L1.1 2.15M10.73 -4.3L14.08 -4.3L14.08 4.3L10.73 4.3ZM17.58 2.15L17.58 4.3L20.92 4.3L20.92 -4.3L17.58 -4.3L17.58 0.43L20.92 0.43M25.29 -6.02L25.29 6.02"/></g><path d="M6.31 3.68H8.57L7.56 7.27H5.8L6.68 5.66ZM24.49 -5.4L23 -2.7L24.49 -2.27Z" fill="currentColor" stroke="none"/></g></g><g transform="translate(30.85 496.2) rotate(-90)"><clipPath id="c23"><rect x="-2" y="-5.4" width="33.21" height="10.8"/></clipPath><g stroke="#000" color="#000" fill="none" stroke-width="2.2" stroke-linejoin="round" stroke-linecap="butt" ><g clip-path="url(#c23)"><path d="M1.1 -2.15L1.1 -4.3L4.45 -4.3L4.45 -1.03L1.1 2.75L1.1 4.3L5.55 4.3M10.73 2.15L10.73 4.3L14.08 4.3L14.08 -4.3L10.73 -4.3L10.73 0.43L14.08 0.43M17.58 -2.15L17.58 -4.3L20.92 -4.3L20.92 -1.03L17.58 2.75L17.58 4.3L22.02 4.3M27.08 -6.02L27.08 6.02M27.08 -6.19L24.42 1.72L29.21 1.72"/></g><path d="M6.31 3.68H8.57L7.56 7.27H5.8L6.68 5.66Z" fill="currentColor" stroke="none"/></g></g><g transform="translate(49.04 496.2) rotate(-90)"><clipPath id="c24"><rect x="-2" y="-5.4" width="30.07" height="10.8"/></clipPath><g stroke="#000" color="#000" fill="none" stroke-width="2.2" stroke-linejoin="round" stroke-linecap="butt" ><g clip-path="url(#c24)"><path d="M1.1 -2.15L1.1 -4.3L4.45 -4.3L4.45 -1.03L1.1 2.75L1.1 4.3L5.55 4.3M10.73 2.15L10.73 4.3L14.08 4.3L14.08 -4.3L10.73 -4.3L10.73 0.43L14.08 0.43M18.45 -6.02L18.45 6.02M26.07 -4.3L21.62 -4.3L21.62 -0.6L24.97 -0.6L24.97 4.3L21.62 4.3L21.62 2.15"/></g><path d="M6.31 3.68H8.57L7.56 7.27H5.8L6.68 5.66ZM17.65 -5.4L16.15 -2.7L17.65 -2.27Z" fill="currentColor" stroke="none"/></g></g><g transform="translate(67.23 496.2) rotate(-90)"><clipPath id="c25"><rect x="-2" y="-5.4" width="32.87" height="10.8"/></clipPath><g stroke="#000" color="#000" fill="none" stroke-width="2.2" stroke-linejoin="round" stroke-linecap="butt" ><g clip-path="url(#c25)"><path d="M1.1 -2.15L1.1 -4.3L4.45 -4.3L4.45 -1.03L1.1 2.75L1.1 4.3L5.55 4.3M10.73 2.15L10.73 4.3L14.08 4.3L14.08 -4.3L10.73 -4.3L10.73 0.43L14.08 0.43M17.58 -2.15L17.58 -4.3L20.92 -4.3L20.92 -3.44L18.98 -0.43L20.32 -0.43L20.92 0.52L20.92 4.3L17.58 4.3L17.58 2.15M27.77 -2.15L27.77 -4.3L24.42 -4.3L24.42 4.3L27.77 4.3L27.77 -0.43L24.42 -0.43"/></g><path d="M6.31 3.68H8.57L7.56 7.27H5.8L6.68 5.66Z" fill="currentColor" stroke="none"/></g></g><g transform="translate(85.42 496.2) rotate(-90)"><clipPath id="c26"><rect x="-2" y="-5.4" width="30.07" height="10.8"/></clipPath><g stroke="#000" color="#000" fill="none" stroke-width="2.2" stroke-linejoin="round" stroke-linecap="butt" ><g clip-path="url(#c26)"><path d="M1.1 -2.15L1.1 -4.3L4.45 -4.3L4.45 -1.03L1.1 2.75L1.1 4.3L5.55 4.3M10.73 2.15L10.73 4.3L14.08 4.3L14.08 -4.3L10.73 -4.3L10.73 0.43L14.08 0.43M18.45 -6.02L18.45 6.02M21.62 -2.15L21.62 -4.3L24.97 -4.3L24.97 -3.44L23.03 -0.43L24.37 -0.43L24.97 0.52L24.97 4.3L21.62 4.3L21.62 2.15"/></g><path d="M6.31 3.68H8.57L7.56 7.27H5.8L6.68 5.66ZM17.65 -5.4L16.15 -2.7L17.65 -2.27Z" fill="currentColor" stroke="none"/></g></g><g transform="translate(103.61 496.2) rotate(-90)"><clipPath id="c27"><rect x="-2" y="-5.4" width="32.87" height="10.8"/></clipPath><g stroke="#000" color="#000" fill="none" stroke-width="2.2" stroke-linejoin="round" stroke-linecap="butt" ><g clip-path="url(#c27)"><path d="M1.1 -2.15L1.1 -4.3L4.45 -4.3L4.45 -3.44L2.51 -0.43L3.84 -0.43L4.45 0.52L4.45 4.3L1.1 4.3L1.1 2.15M10.73 -4.3L14.08 -4.3L14.08 4.3L10.73 4.3ZM20.92 -2.15L20.92 -4.3L17.58 -4.3L17.58 4.3L20.92 4.3L20.92 -0.43L17.58 -0.43M24.42 -2.15L24.42 -4.3L27.77 -4.3L27.77 -1.03L24.42 2.75L24.42 4.3L28.87 4.3"/></g><path d="M6.31 3.68H8.57L7.56 7.27H5.8L6.68 5.66Z" fill="currentColor" stroke="none"/></g></g><g transform="translate(121.8 496.2) rotate(-90)"><clipPath id="c28"><rect x="-2" y="-5.4" width="32.87" height="10.8"/></clipPath><g stroke="#000" color="#000" fill="none" stroke-width="2.2" stroke-linejoin="round" stroke-linecap="butt" ><g clip-path="url(#c28)"><path d="M1.1 -2.15L1.1 -4.3L4.45 -4.3L4.45 -3.44L2.51 -0.43L3.84 -0.43L4.45 0.52L4.45 4.3L1.1 4.3L1.1 2.15M10.73 -4.3L14.08 -4.3L14.08 4.3L10.73 4.3ZM17.58 -2.15L17.58 -4.3L20.92 -4.3L20.92 -1.03L17.58 2.75L17.58 4.3L22.02 4.3M27.77 -2.15L27.77 -4.3L24.42 -4.3L24.42 4.3L27.77 4.3L27.77 -0.43L24.42 -0.43"/></g><path d="M6.31 3.68H8.57L7.56 7.27H5.8L6.68 5.66Z" fill="currentColor" stroke="none"/></g></g><g transform="translate(139.99 496.2) rotate(-90)"><clipPath id="c29"><rect x="-2" y="-5.4" width="30.13" height="10.8"/></clipPath><g stroke="#000" color="#000" fill="none" stroke-width="2.2" stroke-linejoin="round" stroke-linecap="butt" ><g clip-path="url(#c29)"><path d="M1.1 -2.15L1.1 -4.3L4.45 -4.3L4.45 -3.44L2.51 -0.43L3.84 -0.43L4.45 0.52L4.45 4.3L1.1 4.3L1.1 2.15M11.67 -6.02L11.67 6.02M19.29 -4.3L14.84 -4.3L14.84 -0.6L18.19 -0.6L18.19 4.3L14.84 4.3L14.84 2.15M26.13 -4.3L21.69 -4.3L21.69 -0.6L25.03 -0.6L25.03 4.3L21.69 4.3L21.69 2.15"/></g><path d="M6.31 3.68H8.57L7.56 7.27H5.8L6.68 5.66ZM10.87 -5.4L9.37 -2.7L10.87 -2.27Z" fill="currentColor" stroke="none"/></g></g><g transform="translate(158.18 496.2) rotate(-90)"><clipPath id="c30"><rect x="-2" y="-5.4" width="30.13" height="10.8"/></clipPath><g stroke="#000" color="#000" fill="none" stroke-width="2.2" stroke-linejoin="round" stroke-linecap="butt" ><g clip-path="url(#c30)"><path d="M1.1 -2.15L1.1 -4.3L4.45 -4.3L4.45 -3.44L2.51 -0.43L3.84 -0.43L4.45 0.52L4.45 4.3L1.1 4.3L1.1 2.15M11.67 -6.02L11.67 6.02M14.84 -2.15L14.84 -4.3L18.19 -4.3L18.19 -3.44L16.25 -0.43L17.59 -0.43L18.19 0.52L18.19 4.3L14.84 4.3L14.84 2.15M21.69 -4.3L25.03 -4.3L25.03 4.3L21.69 4.3Z"/></g><path d="M6.31 3.68H8.57L7.56 7.27H5.8L6.68 5.66ZM10.87 -5.4L9.37 -2.7L10.87 -2.27Z" fill="currentColor" stroke="none"/></g></g><g transform="translate(176.37 496.2) rotate(-90)"><clipPath id="c31"><rect x="-2" y="-5.4" width="32.87" height="10.8"/></clipPath><g stroke="#000" color="#000" fill="none" stroke-width="2.2" stroke-linejoin="round" stroke-linecap="butt" ><g clip-path="url(#c31)"><path d="M1.1 -2.15L1.1 -4.3L4.45 -4.3L4.45 -3.44L2.51 -0.43L3.84 -0.43L4.45 0.52L4.45 4.3L1.1 4.3L1.1 2.15M10.73 -4.3L14.08 -4.3L14.08 4.3L10.73 4.3ZM17.58 -2.15L17.58 -4.3L20.92 -4.3L20.92 -3.44L18.98 -0.43L20.32 -0.43L20.92 0.52L20.92 4.3L17.58 4.3L17.58 2.15M27.77 -2.15L27.77 -4.3L24.42 -4.3L24.42 4.3L27.77 4.3L27.77 -0.43L24.42 -0.43"/></g><path d="M6.31 3.68H8.57L7.56 7.27H5.8L6.68 5.66Z" fill="currentColor" stroke="none"/></g></g><g transform="translate(194.56 496.2) rotate(-90)"><clipPath id="c32"><rect x="-2" y="-5.4" width="30.13" height="10.8"/></clipPath><g stroke="#000" color="#000" fill="none" stroke-width="2.2" stroke-linejoin="round" stroke-linecap="butt" ><g clip-path="url(#c32)"><path d="M1.1 -2.15L1.1 -4.3L4.45 -4.3L4.45 -3.44L2.51 -0.43L3.84 -0.43L4.45 0.52L4.45 4.3L1.1 4.3L1.1 2.15M11.67 -6.02L11.67 6.02M14.84 2.15L14.84 4.3L18.19 4.3L18.19 -4.3L14.84 -4.3L14.84 0.43L18.19 0.43M21.89 -4.3L24.83 -4.3L24.83 -0.3L21.89 -0.3ZM21.69 -0.3L25.03 -0.3L25.03 4.3L21.69 4.3Z"/></g><path d="M6.31 3.68H8.57L7.56 7.27H5.8L6.68 5.66ZM10.87 -5.4L9.37 -2.7L10.87 -2.27Z" fill="currentColor" stroke="none"/></g></g><g transform="translate(212.75 496.2) rotate(-90)"><clipPath id="c33"><rect x="-2" y="-5.4" width="32.53" height="10.8"/></clipPath><g stroke="#000" color="#000" fill="none" stroke-width="2.2" stroke-linejoin="round" stroke-linecap="butt" ><g clip-path="url(#c33)"><path d="M1.1 -2.15L1.1 -4.3L4.45 -4.3L4.45 -3.44L2.51 -0.43L3.84 -0.43L4.45 0.52L4.45 4.3L1.1 4.3L1.1 2.15M10.73 -4.3L14.08 -4.3L14.08 4.3L10.73 4.3ZM22.02 -4.3L17.58 -4.3L17.58 -0.6L20.92 -0.6L20.92 4.3L17.58 4.3L17.58 2.15M24.42 -2.24L24.42 -4.3L27.43 -4.3L27.43 -3.61L25.45 6.88"/></g><path d="M6.31 3.68H8.57L7.56 7.27H5.8L6.68 5.66Z" fill="currentColor" stroke="none"/></g></g><g transform="translate(230.94 496.2) rotate(-90)"><clipPath id="c34"><rect x="-2" y="-5.4" width="32.87" height="10.8"/></clipPath><g stroke="#000" color="#000" fill="none" stroke-width="2.2" stroke-linejoin="round" stroke-linecap="butt" ><g clip-path="url(#c34)"><path d="M1.1 -2.15L1.1 -4.3L4.45 -4.3L4.45 -3.44L2.51 -0.43L3.84 -0.43L4.45 0.52L4.45 4.3L1.1 4.3L1.1 2.15M10.73 -2.15L10.73 -4.3L14.08 -4.3L14.08 -3.44L12.14 -0.43L13.47 -0.43L14.08 0.52L14.08 4.3L10.73 4.3L10.73 2.15M17.58 -4.3L20.92 -4.3L20.92 4.3L17.58 4.3ZM24.42 2.15L24.42 4.3L27.77 4.3L27.77 -4.3L24.42 -4.3L24.42 0.43L27.77 0.43"/></g><path d="M6.31 3.68H8.57L7.56 7.27H5.8L6.68 5.66Z" fill="currentColor" stroke="none"/></g></g><g transform="translate(249.13 496.2) rotate(-90)"><clipPath id="c35"><rect x="-2" y="-5.4" width="32.87" height="10.8"/></clipPath><g stroke="#000" color="#000" fill="none" stroke-width="2.2" stroke-linejoin="round" stroke-linecap="butt" ><g clip-path="url(#c35)"><path d="M1.1 -2.15L1.1 -4.3L4.45 -4.3L4.45 -1.03L1.1 2.75L1.1 4.3L5.55 4.3M10.93 -4.3L13.88 -4.3L13.88 -0.3L10.93 -0.3ZM10.73 -0.3L14.08 -0.3L14.08 4.3L10.73 4.3ZM17.58 -4.3L20.92 -4.3L20.92 4.3L17.58 4.3ZM24.42 -2.15L24.42 -4.3L27.77 -4.3L27.77 -1.03L24.42 2.75L24.42 4.3L28.87 4.3"/></g><path d="M6.31 3.68H8.57L7.56 7.27H5.8L6.68 5.66Z" fill="currentColor" stroke="none"/></g></g><g transform="translate(267.32 496.2) rotate(-90)"><clipPath id="c36"><rect x="-2" y="-5.4" width="32.53" height="10.8"/></clipPath><g stroke="#000" color="#000" fill="none" stroke-width="2.2" stroke-linejoin="round" stroke-linecap="butt" ><g clip-path="url(#c36)"><path d="M1.1 -2.15L1.1 -4.3L4.45 -4.3L4.45 -1.03L1.1 2.75L1.1 4.3L5.55 4.3M10.73 -2.24L10.73 -4.3L13.74 -4.3L13.74 -3.61L11.75 6.88M17.24 -2.15L17.24 -4.3L20.58 -4.3L20.58 -3.44L18.64 -0.43L19.98 -0.43L20.58 0.52L20.58 4.3L17.24 4.3L17.24 2.15M24.08 -2.15L24.08 -4.3L27.43 -4.3L27.43 -1.03L24.08 2.75L24.08 4.3L28.53 4.3"/></g><path d="M6.31 3.68H8.57L7.56 7.27H5.8L6.68 5.66Z" fill="currentColor" stroke="none"/></g></g><g transform="translate(285.51 496.2) rotate(-90)"><clipPath id="c37"><rect x="-2" y="-5.4" width="27.32" height="10.8"/></clipPath><g stroke="#000" color="#000" fill="none" stroke-width="2.2" stroke-linejoin="round" stroke-linecap="butt" ><g clip-path="url(#c37)"><path d="M1.1 -2.15L1.1 -4.3L4.45 -4.3L4.45 -3.44L2.51 -0.43L3.84 -0.43L4.45 0.52L4.45 4.3L1.1 4.3L1.1 2.15M11.67 -6.02L11.67 6.02M14.84 -2.24L14.84 -4.3L17.85 -4.3L17.85 -3.61L15.86 6.88M22.22 -6.02L22.22 6.02"/></g><path d="M6.31 3.68H8.57L7.56 7.27H5.8L6.68 5.66ZM10.87 -5.4L9.37 -2.7L10.87 -2.27ZM21.42 -5.4L19.92 -2.7L21.42 -2.27Z" fill="currentColor" stroke="none"/></g></g><g transform="translate(303.7 496.2) rotate(-90)"><clipPath id="c38"><rect x="-2" y="-5.4" width="30.13" height="10.8"/></clipPath><g stroke="#000" color="#000" fill="none" stroke-width="2.2" stroke-linejoin="round" stroke-linecap="butt" ><g clip-path="url(#c38)"><path d="M1.1 -2.15L1.1 -4.3L4.45 -4.3L4.45 -3.44L2.51 -0.43L3.84 -0.43L4.45 0.52L4.45 4.3L1.1 4.3L1.1 2.15M11.67 -6.02L11.67 6.02M14.84 -2.15L14.84 -4.3L18.19 -4.3L18.19 -1.03L14.84 2.75L14.84 4.3L19.29 4.3M25.03 -2.15L25.03 -4.3L21.69 -4.3L21.69 4.3L25.03 4.3L25.03 -0.43L21.69 -0.43"/></g><path d="M6.31 3.68H8.57L7.56 7.27H5.8L6.68 5.66ZM10.87 -5.4L9.37 -2.7L10.87 -2.27Z" fill="currentColor" stroke="none"/></g></g><g transform="translate(321.89 496.2) rotate(-90)"><clipPath id="c39"><rect x="-2" y="-5.4" width="32.87" height="10.8"/></clipPath><g stroke="#000" color="#000" fill="none" stroke-width="2.2" stroke-linejoin="round" stroke-linecap="butt" ><g clip-path="url(#c39)"><path d="M1.1 -2.15L1.1 -4.3L4.45 -4.3L4.45 -3.44L2.51 -0.43L3.84 -0.43L4.45 0.52L4.45 4.3L1.1 4.3L1.1 2.15M10.73 -4.3L14.08 -4.3L14.08 4.3L10.73 4.3ZM20.92 -2.15L20.92 -4.3L17.58 -4.3L17.58 4.3L20.92 4.3L20.92 -0.43L17.58 -0.43M24.42 -2.15L24.42 -4.3L27.77 -4.3L27.77 -3.44L25.83 -0.43L27.17 -0.43L27.77 0.52L27.77 4.3L24.42 4.3L24.42 2.15"/></g><path d="M6.31 3.68H8.57L7.56 7.27H5.8L6.68 5.66Z" fill="currentColor" stroke="none"/></g></g><g transform="translate(340.08 496.2) rotate(-90)"><clipPath id="c40"><rect x="-2" y="-5.4" width="30.13" height="10.8"/></clipPath><g stroke="#000" color="#000" fill="none" stroke-width="2.2" stroke-linejoin="round" stroke-linecap="butt" ><g clip-path="url(#c40)"><path d="M1.1 -2.15L1.1 -4.3L4.45 -4.3L4.45 -3.44L2.51 -0.43L3.84 -0.43L4.45 0.52L4.45 4.3L1.1 4.3L1.1 2.15M11.67 -6.02L11.67 6.02M18.19 -2.15L18.19 -4.3L14.84 -4.3L14.84 4.3L18.19 4.3L18.19 -0.43L14.84 -0.43M21.69 -2.15L21.69 -4.3L25.03 -4.3L25.03 -3.44L23.09 -0.43L24.43 -0.43L25.03 0.52L25.03 4.3L21.69 4.3L21.69 2.15"/></g><path d="M6.31 3.68H8.57L7.56 7.27H5.8L6.68 5.66ZM10.87 -5.4L9.37 -2.7L10.87 -2.27Z" fill="currentColor" stroke="none"/></g></g><g transform="translate(358.27 496.2) rotate(-90)"><clipPath id="c41"><rect x="-2" y="-5.4" width="30.13" height="10.8"/></clipPath><g stroke="#000" color="#000" fill="none" stroke-width="2.2" stroke-linejoin="round" stroke-linecap="butt" ><g clip-path="url(#c41)"><path d="M1.1 -2.15L1.1 -4.3L4.45 -4.3L4.45 -3.44L2.51 -0.43L3.84 -0.43L4.45 0.52L4.45 4.3L1.1 4.3L1.1 2.15M11.67 -6.02L11.67 6.02M14.84 -2.15L14.84 -4.3L18.19 -4.3L18.19 -1.03L14.84 2.75L14.84 4.3L19.29 4.3M21.69 -2.15L21.69 -4.3L25.03 -4.3L25.03 -3.44L23.09 -0.43L24.43 -0.43L25.03 0.52L25.03 4.3L21.69 4.3L21.69 2.15"/></g><path d="M6.31 3.68H8.57L7.56 7.27H5.8L6.68 5.66ZM10.87 -5.4L9.37 -2.7L10.87 -2.27Z" fill="currentColor" stroke="none"/></g></g><g transform="translate(376.46 496.2) rotate(-90)"><clipPath id="c42"><rect x="-2" y="-5.4" width="32.53" height="10.8"/></clipPath><g stroke="#000" color="#000" fill="none" stroke-width="2.2" stroke-linejoin="round" stroke-linecap="butt" ><g clip-path="url(#c42)"><path d="M1.1 -2.15L1.1 -4.3L4.45 -4.3L4.45 -3.44L2.51 -0.43L3.84 -0.43L4.45 0.52L4.45 4.3L1.1 4.3L1.1 2.15M10.73 -4.3L14.08 -4.3L14.08 4.3L10.73 4.3ZM17.58 -2.24L17.58 -4.3L20.58 -4.3L20.58 -3.61L18.6 6.88M24.08 -2.15L24.08 -4.3L27.43 -4.3L27.43 -3.44L25.49 -0.43L26.83 -0.43L27.43 0.52L27.43 4.3L24.08 4.3L24.08 2.15"/></g><path d="M6.31 3.68H8.57L7.56 7.27H5.8L6.68 5.66Z" fill="currentColor" stroke="none"/></g></g><g transform="translate(394.65 496.2) rotate(-90)"><clipPath id="c43"><rect x="-2" y="-5.4" width="32.87" height="10.8"/></clipPath><g stroke="#000" color="#000" fill="none" stroke-width="2.2" stroke-linejoin="round" stroke-linecap="butt" ><g clip-path="url(#c43)"><path d="M1.1 -2.15L1.1 -4.3L4.45 -4.3L4.45 -1.03L1.1 2.75L1.1 4.3L5.55 4.3M10.73 2.15L10.73 4.3L14.08 4.3L14.08 -4.3L10.73 -4.3L10.73 0.43L14.08 0.43M17.58 -2.15L17.58 -4.3L20.92 -4.3L20.92 -1.03L17.58 2.75L17.58 4.3L22.02 4.3M24.42 -2.15L24.42 -4.3L27.77 -4.3L27.77 -3.44L25.83 -0.43L27.17 -0.43L27.77 0.52L27.77 4.3L24.42 4.3L24.42 2.15"/></g><path d="M6.31 3.68H8.57L7.56 7.27H5.8L6.68 5.66Z" fill="currentColor" stroke="none"/></g></g><g transform="translate(412.84 496.2) rotate(-90)"><clipPath id="c44"><rect x="-2" y="-5.4" width="32.87" height="10.8"/></clipPath><g stroke="#000" color="#000" fill="none" stroke-width="2.2" stroke-linejoin="round" stroke-linecap="butt" ><g clip-path="url(#c44)"><path d="M1.1 -2.15L1.1 -4.3L4.45 -4.3L4.45 -3.44L2.51 -0.43L3.84 -0.43L4.45 0.52L4.45 4.3L1.1 4.3L1.1 2.15M10.73 -2.15L10.73 -4.3L14.08 -4.3L14.08 -3.44L12.14 -0.43L13.47 -0.43L14.08 0.52L14.08 4.3L10.73 4.3L10.73 2.15M20.23 -6.02L20.23 6.02M20.23 -6.19L17.58 1.72L22.36 1.72M24.76 -2.24L24.76 -4.3L27.77 -4.3L27.77 -3.61L25.78 6.88"/></g><path d="M6.31 3.68H8.57L7.56 7.27H5.8L6.68 5.66Z" fill="currentColor" stroke="none"/></g></g><g transform="translate(431.03 496.2) rotate(-90)"><clipPath id="c45"><rect x="-2" y="-5.4" width="33.21" height="10.8"/></clipPath><g stroke="#000" color="#000" fill="none" stroke-width="2.2" stroke-linejoin="round" stroke-linecap="butt" ><g clip-path="url(#c45)"><path d="M1.1 -2.15L1.1 -4.3L4.45 -4.3L4.45 -3.44L2.51 -0.43L3.84 -0.43L4.45 0.52L4.45 4.3L1.1 4.3L1.1 2.15M10.73 -4.3L14.08 -4.3L14.08 4.3L10.73 4.3ZM20.23 -6.02L20.23 6.02M20.23 -6.19L17.58 1.72L22.36 1.72M24.76 -2.15L24.76 -4.3L28.11 -4.3L28.11 -3.44L26.17 -0.43L27.51 -0.43L28.11 0.52L28.11 4.3L24.76 4.3L24.76 2.15"/></g><path d="M6.31 3.68H8.57L7.56 7.27H5.8L6.68 5.66Z" fill="currentColor" stroke="none"/></g></g><g transform="translate(449.22 496.2) rotate(-90)"><clipPath id="c46"><rect x="-2" y="-5.4" width="32.53" height="10.8"/></clipPath><g stroke="#000" color="#000" fill="none" stroke-width="2.2" stroke-linejoin="round" stroke-linecap="butt" ><g clip-path="url(#c46)"><path d="M1.1 -2.15L1.1 -4.3L4.45 -4.3L4.45 -3.44L2.51 -0.43L3.84 -0.43L4.45 0.52L4.45 4.3L1.1 4.3L1.1 2.15M10.73 -2.15L10.73 -4.3L14.08 -4.3L14.08 -1.03L10.73 2.75L10.73 4.3L15.18 4.3M17.58 -4.3L20.92 -4.3L20.92 4.3L17.58 4.3ZM24.42 -2.24L24.42 -4.3L27.43 -4.3L27.43 -3.61L25.45 6.88"/></g><path d="M6.31 3.68H8.57L7.56 7.27H5.8L6.68 5.66Z" fill="currentColor" stroke="none"/></g></g><g transform="translate(467.41 496.2) rotate(-90)"><clipPath id="c47"><rect x="-2" y="-5.4" width="32.87" height="10.8"/></clipPath><g stroke="#000" color="#000" fill="none" stroke-width="2.2" stroke-linejoin="round" stroke-linecap="butt" ><g clip-path="url(#c47)"><path d="M1.1 -2.15L1.1 -4.3L4.45 -4.3L4.45 -1.03L1.1 2.75L1.1 4.3L5.55 4.3M14.08 -2.15L14.08 -4.3L10.73 -4.3L10.73 4.3L14.08 4.3L14.08 -0.43L10.73 -0.43M17.58 2.15L17.58 4.3L20.92 4.3L20.92 -4.3L17.58 -4.3L17.58 0.43L20.92 0.43M27.77 -2.15L27.77 -4.3L24.42 -4.3L24.42 4.3L27.77 4.3L27.77 -0.43L24.42 -0.43"/></g><path d="M6.31 3.68H8.57L7.56 7.27H5.8L6.68 5.66Z" fill="currentColor" stroke="none"/></g></g><g transform="translate(485.6 496.2) rotate(-90)"><clipPath id="c48"><rect x="-2" y="-5.4" width="32.87" height="10.8"/></clipPath><g stroke="#000" color="#000" fill="none" stroke-width="2.2" stroke-linejoin="round" stroke-linecap="butt" ><g clip-path="url(#c48)"><path d="M1.1 -2.15L1.1 -4.3L4.45 -4.3L4.45 -1.03L1.1 2.75L1.1 4.3L5.55 4.3M14.08 -2.15L14.08 -4.3L10.73 -4.3L10.73 4.3L14.08 4.3L14.08 -0.43L10.73 -0.43M17.58 -4.3L20.92 -4.3L20.92 4.3L17.58 4.3ZM24.42 -2.15L24.42 -4.3L27.77 -4.3L27.77 -1.03L24.42 2.75L24.42 4.3L28.87 4.3"/></g><path d="M6.31 3.68H8.57L7.56 7.27H5.8L6.68 5.66Z" fill="currentColor" stroke="none"/></g></g><g transform="translate(503.79 496.2) rotate(-90)"><clipPath id="c49"><rect x="-2" y="-5.4" width="30.13" height="10.8"/></clipPath><g stroke="#000" color="#000" fill="none" stroke-width="2.2" stroke-linejoin="round" stroke-linecap="butt" ><g clip-path="url(#c49)"><path d="M1.1 -2.15L1.1 -4.3L4.45 -4.3L4.45 -3.44L2.51 -0.43L3.84 -0.43L4.45 0.52L4.45 4.3L1.1 4.3L1.1 2.15M11.67 -6.02L11.67 6.02M15.04 -4.3L17.99 -4.3L17.99 -0.3L15.04 -0.3ZM14.84 -0.3L18.19 -0.3L18.19 4.3L14.84 4.3ZM25.03 -2.15L25.03 -4.3L21.69 -4.3L21.69 4.3L25.03 4.3L25.03 -0.43L21.69 -0.43"/></g><path d="M6.31 3.68H8.57L7.56 7.27H5.8L6.68 5.66ZM10.87 -5.4L9.37 -2.7L10.87 -2.27Z" fill="currentColor" stroke="none"/></g></g><g transform="translate(521.98 496.2) rotate(-90)"><clipPath id="c50"><rect x="-2" y="-5.4" width="30.73" height="10.8"/></clipPath><g stroke="#000" color="#000" fill="none" stroke-width="2.2" stroke-linejoin="round" stroke-linecap="butt" ><g clip-path="url(#c50)"><path d="M1.1 -2.15L1.1 -4.3L4.45 -4.3L4.45 -1.03L1.1 2.75L1.1 4.3L5.55 4.3M10.73 2.15L10.73 4.3L14.08 4.3L14.08 -4.3L10.73 -4.3L10.73 0.43L14.08 0.43M20.23 -6.02L20.23 6.02M20.23 -6.19L17.58 1.72L22.36 1.72M25.63 -6.02L25.63 6.02"/></g><path d="M6.31 3.68H8.57L7.56 7.27H5.8L6.68 5.66ZM24.83 -5.4L23.34 -2.7L24.83 -2.27Z" fill="currentColor" stroke="none"/></g></g><g transform="translate(540.17 496.2) rotate(-90)"><clipPath id="c51"><rect x="-2" y="-5.4" width="30.13" height="10.8"/></clipPath><g stroke="#000" color="#000" fill="none" stroke-width="2.2" stroke-linejoin="round" stroke-linecap="butt" ><g clip-path="url(#c51)"><path d="M1.1 -2.15L1.1 -4.3L4.45 -4.3L4.45 -3.44L2.51 -0.43L3.84 -0.43L4.45 0.52L4.45 4.3L1.1 4.3L1.1 2.15M11.67 -6.02L11.67 6.02M18.19 -2.15L18.19 -4.3L14.84 -4.3L14.84 4.3L18.19 4.3L18.19 -0.43L14.84 -0.43M21.69 2.15L21.69 4.3L25.03 4.3L25.03 -4.3L21.69 -4.3L21.69 0.43L25.03 0.43"/></g><path d="M6.31 3.68H8.57L7.56 7.27H5.8L6.68 5.66ZM10.87 -5.4L9.37 -2.7L10.87 -2.27Z" fill="currentColor" stroke="none"/></g></g><g transform="translate(558.36 496.2) rotate(-90)"><clipPath id="c52"><rect x="-2" y="-5.4" width="32.87" height="10.8"/></clipPath><g stroke="#000" color="#000" fill="none" stroke-width="2.2" stroke-linejoin="round" stroke-linecap="butt" ><g clip-path="url(#c52)"><path d="M1.1 -2.15L1.1 -4.3L4.45 -4.3L4.45 -1.03L1.1 2.75L1.1 4.3L5.55 4.3M10.93 -4.3L13.88 -4.3L13.88 -0.3L10.93 -0.3ZM10.73 -0.3L14.08 -0.3L14.08 4.3L10.73 4.3ZM20.92 -2.15L20.92 -4.3L17.58 -4.3L17.58 4.3L20.92 4.3L20.92 -0.43L17.58 -0.43M24.62 -4.3L27.57 -4.3L27.57 -0.3L24.62 -0.3ZM24.42 -0.3L27.77 -0.3L27.77 4.3L24.42 4.3Z"/></g><path d="M6.31 3.68H8.57L7.56 7.27H5.8L6.68 5.66Z" fill="currentColor" stroke="none"/></g></g><g transform="translate(576.55 496.2) rotate(-90)"><clipPath id="c53"><rect x="-2" y="-5.4" width="32.87" height="10.8"/></clipPath><g stroke="#000" color="#000" fill="none" stroke-width="2.2" stroke-linejoin="round" stroke-linecap="butt" ><g clip-path="url(#c53)"><path d="M1.1 -2.15L1.1 -4.3L4.45 -4.3L4.45 -3.44L2.51 -0.43L3.84 -0.43L4.45 0.52L4.45 4.3L1.1 4.3L1.1 2.15M10.73 -4.3L14.08 -4.3L14.08 4.3L10.73 4.3ZM17.78 -4.3L20.72 -4.3L20.72 -0.3L17.78 -0.3ZM17.58 -0.3L20.92 -0.3L20.92 4.3L17.58 4.3ZM24.42 -2.15L24.42 -4.3L27.77 -4.3L27.77 -1.03L24.42 2.75L24.42 4.3L28.87 4.3"/></g><path d="M6.31 3.68H8.57L7.56 7.27H5.8L6.68 5.66Z" fill="currentColor" stroke="none"/></g></g><g transform="translate(594.74 496.2) rotate(-90)"><clipPath id="c54"><rect x="-2" y="-5.4" width="30.13" height="10.8"/></clipPath><g stroke="#000" color="#000" fill="none" stroke-width="2.2" stroke-linejoin="round" stroke-linecap="butt" ><g clip-path="url(#c54)"><path d="M1.1 -2.15L1.1 -4.3L4.45 -4.3L4.45 -3.44L2.51 -0.43L3.84 -0.43L4.45 0.52L4.45 4.3L1.1 4.3L1.1 2.15M11.67 -6.02L11.67 6.02M14.84 -2.15L14.84 -4.3L18.19 -4.3L18.19 -1.03L14.84 2.75L14.84 4.3L19.29 4.3M21.69 2.15L21.69 4.3L25.03 4.3L25.03 -4.3L21.69 -4.3L21.69 0.43L25.03 0.43"/></g><path d="M6.31 3.68H8.57L7.56 7.27H5.8L6.68 5.66ZM10.87 -5.4L9.37 -2.7L10.87 -2.27Z" fill="currentColor" stroke="none"/></g></g><g transform="translate(612.93 496.2) rotate(-90)"><clipPath id="c55"><rect x="-2" y="-5.4" width="30.07" height="10.8"/></clipPath><g stroke="#000" color="#000" fill="none" stroke-width="2.2" stroke-linejoin="round" stroke-linecap="butt" ><g clip-path="url(#c55)"><path d="M1.1 -2.15L1.1 -4.3L4.45 -4.3L4.45 -3.44L2.51 -0.43L3.84 -0.43L4.45 0.52L4.45 4.3L1.1 4.3L1.1 2.15M10.73 -4.3L14.08 -4.3L14.08 4.3L10.73 4.3ZM18.45 -6.02L18.45 6.02M21.62 -2.15L21.62 -4.3L24.97 -4.3L24.97 -1.03L21.62 2.75L21.62 4.3L26.07 4.3"/></g><path d="M6.31 3.68H8.57L7.56 7.27H5.8L6.68 5.66ZM17.65 -5.4L16.15 -2.7L17.65 -2.27Z" fill="currentColor" stroke="none"/></g></g><g transform="translate(631.12 496.2) rotate(-90)"><clipPath id="c56"><rect x="-2" y="-5.4" width="30.41" height="10.8"/></clipPath><g stroke="#000" color="#000" fill="none" stroke-width="2.2" stroke-linejoin="round" stroke-linecap="butt" ><g clip-path="url(#c56)"><path d="M1.1 -2.15L1.1 -4.3L4.45 -4.3L4.45 -3.44L2.51 -0.43L3.84 -0.43L4.45 0.52L4.45 4.3L1.1 4.3L1.1 2.15M10.73 -4.3L14.08 -4.3L14.08 4.3L10.73 4.3ZM18.45 -6.02L18.45 6.02M24.28 -6.02L24.28 6.02M24.28 -6.19L21.62 1.72L26.41 1.72"/></g><path d="M6.31 3.68H8.57L7.56 7.27H5.8L6.68 5.66ZM17.65 -5.4L16.15 -2.7L17.65 -2.27Z" fill="currentColor" stroke="none"/></g></g><g transform="translate(649.31 496.2) rotate(-90)"><clipPath id="c57"><rect x="-2" y="-5.4" width="33.21" height="10.8"/></clipPath><g stroke="#000" color="#000" fill="none" stroke-width="2.2" stroke-linejoin="round" stroke-linecap="butt" ><g clip-path="url(#c57)"><path d="M1.1 -2.15L1.1 -4.3L4.45 -4.3L4.45 -1.03L1.1 2.75L1.1 4.3L5.55 4.3M10.93 -4.3L13.88 -4.3L13.88 -0.3L10.93 -0.3ZM10.73 -0.3L14.08 -0.3L14.08 4.3L10.73 4.3ZM20.92 -2.15L20.92 -4.3L17.58 -4.3L17.58 4.3L20.92 4.3L20.92 -0.43L17.58 -0.43M27.08 -6.02L27.08 6.02M27.08 -6.19L24.42 1.72L29.21 1.72"/></g><path d="M6.31 3.68H8.57L7.56 7.27H5.8L6.68 5.66Z" fill="currentColor" stroke="none"/></g></g><g transform="translate(667.5 496.2) rotate(-90)"><clipPath id="c58"><rect x="-2" y="-5.4" width="29.79" height="10.8"/></clipPath><g stroke="#000" color="#000" fill="none" stroke-width="2.2" stroke-linejoin="round" stroke-linecap="butt" ><g clip-path="url(#c58)"><path d="M1.1 -2.15L1.1 -4.3L4.45 -4.3L4.45 -3.44L2.51 -0.43L3.84 -0.43L4.45 0.52L4.45 4.3L1.1 4.3L1.1 2.15M11.67 -6.02L11.67 6.02M14.84 -2.15L14.84 -4.3L18.19 -4.3L18.19 -3.44L16.25 -0.43L17.59 -0.43L18.19 0.52L18.19 4.3L14.84 4.3L14.84 2.15M21.69 -2.24L21.69 -4.3L24.69 -4.3L24.69 -3.61L22.71 6.88"/></g><path d="M6.31 3.68H8.57L7.56 7.27H5.8L6.68 5.66ZM10.87 -5.4L9.37 -2.7L10.87 -2.27Z" fill="currentColor" stroke="none"/></g></g><g transform="translate(685.69 496.2) rotate(-90)"><clipPath id="c59"><rect x="-2" y="-5.4" width="33.21" height="10.8"/></clipPath><g stroke="#fce4d6" color="#fce4d6" fill="none" stroke-width="2.2" stroke-linejoin="round" stroke-linecap="butt" ><g clip-path="url(#c59)"><path d="M1.1 -2.15L1.1 -4.3L4.45 -4.3L4.45 -1.03L1.1 2.75L1.1 4.3L5.55 4.3M13.38 -6.02L13.38 6.02M13.38 -6.19L10.73 1.72L15.52 1.72M17.92 -2.15L17.92 -4.3L21.26 -4.3L21.26 -3.44L19.32 -0.43L20.66 -0.43L21.26 0.52L21.26 4.3L17.92 4.3L17.92 2.15M24.76 -2.15L24.76 -4.3L28.11 -4.3L28.11 -3.44L26.17 -0.43L27.51 -0.43L28.11 0.52L28.11 4.3L24.76 4.3L24.76 2.15"/></g><path d="M6.31 3.68H8.57L7.56 7.27H5.8L6.68 5.66Z" fill="currentColor" stroke="none"/></g></g><g transform="translate(703.88 496.2) rotate(-90)"><clipPath id="c60"><rect x="-2" y="-5.4" width="27.53" height="10.8"/></clipPath><g stroke="#fce4d6" color="#fce4d6" fill="none" stroke-width="2.2" stroke-linejoin="round" stroke-linecap="butt" ><g clip-path="url(#c60)"><path d="M1.1 -2.15L1.1 -4.3L4.45 -4.3L4.45 -1.03L1.1 2.75L1.1 4.3L5.55 4.3M10.73 -2.15L10.73 -4.3L14.08 -4.3L14.08 -3.44L12.14 -0.43L13.47 -0.43L14.08 0.52L14.08 4.3L10.73 4.3L10.73 2.15M18.45 -6.02L18.45 6.02M22.43 -6.02L22.43 6.02"/></g><path d="M6.31 3.68H8.57L7.56 7.27H5.8L6.68 5.66ZM17.65 -5.4L16.15 -2.7L17.65 -2.27ZM21.63 -5.4L20.13 -2.7L21.63 -2.27Z" fill="currentColor" stroke="none"/></g></g><g transform="translate(722.07 496.2) rotate(-90)"><clipPath id="c61"><rect x="-2" y="-5.4" width="30.39" height="10.8"/></clipPath><g stroke="#fce4d6" color="#fce4d6" fill="none" stroke-width="2.2" stroke-linejoin="round" stroke-linecap="butt" ><g clip-path="url(#c61)"><path d="M1.1 -2.15L1.1 -4.3L4.45 -4.3L4.45 -1.03L1.1 2.75L1.1 4.3L5.55 4.3M10.93 -4.3L13.88 -4.3L13.88 -0.3L10.93 -0.3ZM10.73 -0.3L14.08 -0.3L14.08 4.3L10.73 4.3ZM17.58 -4.3L20.92 -4.3L20.92 4.3L17.58 4.3ZM25.29 -6.02L25.29 6.02"/></g><path d="M6.31 3.68H8.57L7.56 7.27H5.8L6.68 5.66ZM24.49 -5.4L23 -2.7L24.49 -2.27Z" fill="currentColor" stroke="none"/></g></g><g transform="translate(740.26 496.2) rotate(-90)"><clipPath id="c62"><rect x="-2" y="-5.4" width="32.53" height="10.8"/></clipPath><g stroke="#fce4d6" color="#fce4d6" fill="none" stroke-width="2.2" stroke-linejoin="round" stroke-linecap="butt" ><g clip-path="url(#c62)"><path d="M1.1 -2.15L1.1 -4.3L4.45 -4.3L4.45 -1.03L1.1 2.75L1.1 4.3L5.55 4.3M10.73 -2.24L10.73 -4.3L13.74 -4.3L13.74 -3.61L11.75 6.88M17.24 -4.3L20.58 -4.3L20.58 4.3L17.24 4.3ZM24.08 -2.15L24.08 -4.3L27.43 -4.3L27.43 -3.44L25.49 -0.43L26.83 -0.43L27.43 0.52L27.43 4.3L24.08 4.3L24.08 2.15"/></g><path d="M6.31 3.68H8.57L7.56 7.27H5.8L6.68 5.66Z" fill="currentColor" stroke="none"/></g></g><g transform="translate(758.45 496.2) rotate(-90)"><clipPath id="c63"><rect x="-2" y="-5.4" width="32.87" height="10.8"/></clipPath><g stroke="#fce4d6" color="#fce4d6" fill="none" stroke-width="2.2" stroke-linejoin="round" stroke-linecap="butt" ><g clip-path="url(#c63)"><path d="M1.1 -2.15L1.1 -4.3L4.45 -4.3L4.45 -3.44L2.51 -0.43L3.84 -0.43L4.45 0.52L4.45 4.3L1.1 4.3L1.1 2.15M10.73 -4.3L14.08 -4.3L14.08 4.3L10.73 4.3ZM17.58 -2.15L17.58 -4.3L20.92 -4.3L20.92 -3.44L18.98 -0.43L20.32 -0.43L20.92 0.52L20.92 4.3L17.58 4.3L17.58 2.15M27.77 -2.15L27.77 -4.3L24.42 -4.3L24.42 4.3L27.77 4.3L27.77 -0.43L24.42 -0.43"/></g><path d="M6.31 3.68H8.57L7.56 7.27H5.8L6.68 5.66Z" fill="currentColor" stroke="none"/></g></g><g transform="translate(776.64 496.2) rotate(-90)"><clipPath id="c64"><rect x="-2" y="-5.4" width="32.87" height="10.8"/></clipPath><g stroke="#fce4d6" color="#fce4d6" fill="none" stroke-width="2.2" stroke-linejoin="round" stroke-linecap="butt" ><g clip-path="url(#c64)"><path d="M1.1 -2.15L1.1 -4.3L4.45 -4.3L4.45 -3.44L2.51 -0.43L3.84 -0.43L4.45 0.52L4.45 4.3L1.1 4.3L1.1 2.15M10.73 -4.3L14.08 -4.3L14.08 4.3L10.73 4.3ZM17.58 -2.15L17.58 -4.3L20.92 -4.3L20.92 -3.44L18.98 -0.43L20.32 -0.43L20.92 0.52L20.92 4.3L17.58 4.3L17.58 2.15M24.42 -2.15L24.42 -4.3L27.77 -4.3L27.77 -1.03L24.42 2.75L24.42 4.3L28.87 4.3"/></g><path d="M6.31 3.68H8.57L7.56 7.27H5.8L6.68 5.66Z" fill="currentColor" stroke="none"/></g></g><g transform="translate(794.83 496.2) rotate(-90)"><clipPath id="c65"><rect x="-2" y="-5.4" width="30.07" height="10.8"/></clipPath><g stroke="#fce4d6" color="#fce4d6" fill="none" stroke-width="2.2" stroke-linejoin="round" stroke-linecap="butt" ><g clip-path="url(#c65)"><path d="M1.1 -2.15L1.1 -4.3L4.45 -4.3L4.45 -1.03L1.1 2.75L1.1 4.3L5.55 4.3M10.93 -4.3L13.88 -4.3L13.88 -0.3L10.93 -0.3ZM10.73 -0.3L14.08 -0.3L14.08 4.3L10.73 4.3ZM18.45 -6.02L18.45 6.02M21.82 -4.3L24.77 -4.3L24.77 -0.3L21.82 -0.3ZM21.62 -0.3L24.97 -0.3L24.97 4.3L21.62 4.3Z"/></g><path d="M6.31 3.68H8.57L7.56 7.27H5.8L6.68 5.66ZM17.65 -5.4L16.15 -2.7L17.65 -2.27Z" fill="currentColor" stroke="none"/></g></g><g transform="translate(813.02 496.2) rotate(-90)"><clipPath id="c66"><rect x="-2" y="-5.4" width="32.87" height="10.8"/></clipPath><g stroke="#fce4d6" color="#fce4d6" fill="none" stroke-width="2.2" stroke-linejoin="round" stroke-linecap="butt" ><g clip-path="url(#c66)"><path d="M1.1 -2.15L1.1 -4.3L4.45 -4.3L4.45 -1.03L1.1 2.75L1.1 4.3L5.55 4.3M10.73 -2.24L10.73 -4.3L13.74 -4.3L13.74 -3.61L11.75 6.88M19.89 -6.02L19.89 6.02M19.89 -6.19L17.24 1.72L22.02 1.72M27.77 -2.15L27.77 -4.3L24.42 -4.3L24.42 4.3L27.77 4.3L27.77 -0.43L24.42 -0.43"/></g><path d="M6.31 3.68H8.57L7.56 7.27H5.8L6.68 5.66Z" fill="currentColor" stroke="none"/></g></g><g transform="translate(831.21 496.2) rotate(-90)"><clipPath id="c67"><rect x="-2" y="-5.4" width="30.39" height="10.8"/></clipPath><g stroke="#fce4d6" color="#fce4d6" fill="none" stroke-width="2.2" stroke-linejoin="round" stroke-linecap="butt" ><g clip-path="url(#c67)"><path d="M1.1 -2.15L1.1 -4.3L4.45 -4.3L4.45 -1.03L1.1 2.75L1.1 4.3L5.55 4.3M10.93 -4.3L13.88 -4.3L13.88 -0.3L10.93 -0.3ZM10.73 -0.3L14.08 -0.3L14.08 4.3L10.73 4.3ZM17.58 -2.15L17.58 -4.3L20.92 -4.3L20.92 -3.44L18.98 -0.43L20.32 -0.43L20.92 0.52L20.92 4.3L17.58 4.3L17.58 2.15M25.29 -6.02L25.29 6.02"/></g><path d="M6.31 3.68H8.57L7.56 7.27H5.8L6.68 5.66ZM24.49 -5.4L23 -2.7L24.49 -2.27Z" fill="currentColor" stroke="none"/></g></g><g transform="translate(849.4 496.2) rotate(-90)"><clipPath id="c68"><rect x="-2" y="-5.4" width="32.87" height="10.8"/></clipPath><g stroke="#fce4d6" color="#fce4d6" fill="none" stroke-width="2.2" stroke-linejoin="round" stroke-linecap="butt" ><g clip-path="url(#c68)"><path d="M1.1 -2.15L1.1 -4.3L4.45 -4.3L4.45 -1.03L1.1 2.75L1.1 4.3L5.55 4.3M10.93 -4.3L13.88 -4.3L13.88 -0.3L10.93 -0.3ZM10.73 -0.3L14.08 -0.3L14.08 4.3L10.73 4.3ZM17.78 -4.3L20.72 -4.3L20.72 -0.3L17.78 -0.3ZM17.58 -0.3L20.92 -0.3L20.92 4.3L17.58 4.3ZM24.42 -4.3L27.77 -4.3L27.77 4.3L24.42 4.3Z"/></g><path d="M6.31 3.68H8.57L7.56 7.27H5.8L6.68 5.66Z" fill="currentColor" stroke="none"/></g></g><g transform="translate(867.59 496.2) rotate(-90)"><clipPath id="c69"><rect x="-2" y="-5.4" width="27.19" height="10.8"/></clipPath><g stroke="#fce4d6" color="#fce4d6" fill="none" stroke-width="2.2" stroke-linejoin="round" stroke-linecap="butt" ><g clip-path="url(#c69)"><path d="M1.1 -2.15L1.1 -4.3L4.45 -4.3L4.45 -1.03L1.1 2.75L1.1 4.3L5.55 4.3M10.73 -2.24L10.73 -4.3L13.74 -4.3L13.74 -3.61L11.75 6.88M18.11 -6.02L18.11 6.02M22.09 -6.02L22.09 6.02"/></g><path d="M6.31 3.68H8.57L7.56 7.27H5.8L6.68 5.66ZM17.31 -5.4L15.81 -2.7L17.31 -2.27ZM21.29 -5.4L19.79 -2.7L21.29 -2.27Z" fill="currentColor" stroke="none"/></g></g><g transform="translate(885.78 496.2) rotate(-90)"><clipPath id="c70"><rect x="-2" y="-5.4" width="32.87" height="10.8"/></clipPath><g stroke="#fce4d6" color="#fce4d6" fill="none" stroke-width="2.2" stroke-linejoin="round" stroke-linecap="butt" ><g clip-path="url(#c70)"><path d="M1.1 -2.15L1.1 -4.3L4.45 -4.3L4.45 -1.03L1.1 2.75L1.1 4.3L5.55 4.3M10.73 2.15L10.73 4.3L14.08 4.3L14.08 -4.3L10.73 -4.3L10.73 0.43L14.08 0.43M17.78 -4.3L20.72 -4.3L20.72 -0.3L17.78 -0.3ZM17.58 -0.3L20.92 -0.3L20.92 4.3L17.58 4.3ZM28.87 -4.3L24.42 -4.3L24.42 -0.6L27.77 -0.6L27.77 4.3L24.42 4.3L24.42 2.15"/></g><path d="M6.31 3.68H8.57L7.56 7.27H5.8L6.68 5.66Z" fill="currentColor" stroke="none"/></g></g><g transform="translate(903.97 496.2) rotate(-90)"><clipPath id="c71"><rect x="-2" y="-5.4" width="32.53" height="10.8"/></clipPath><g stroke="#fff" color="#fff" fill="none" stroke-width="2.2" stroke-linejoin="round" stroke-linecap="butt" ><g clip-path="url(#c71)"><path d="M1.1 -2.15L1.1 -4.3L4.45 -4.3L4.45 -1.03L1.1 2.75L1.1 4.3L5.55 4.3M14.08 -2.15L14.08 -4.3L10.73 -4.3L10.73 4.3L14.08 4.3L14.08 -0.43L10.73 -0.43M17.58 -2.24L17.58 -4.3L20.58 -4.3L20.58 -3.61L18.6 6.88M28.53 -4.3L24.08 -4.3L24.08 -0.6L27.43 -0.6L27.43 4.3L24.08 4.3L24.08 2.15"/></g><path d="M6.31 3.68H8.57L7.56 7.27H5.8L6.68 5.66Z" fill="currentColor" stroke="none"/></g></g><g transform="translate(922.16 496.2) rotate(-90)"><clipPath id="c72"><rect x="-2" y="-5.4" width="32.87" height="10.8"/></clipPath><g stroke="#fff" color="#fff" fill="none" stroke-width="2.2" stroke-linejoin="round" stroke-linecap="butt" ><g clip-path="url(#c72)"><path d="M1.1 -2.15L1.1 -4.3L4.45 -4.3L4.45 -1.03L1.1 2.75L1.1 4.3L5.55 4.3M10.73 -2.15L10.73 -4.3L14.08 -4.3L14.08 -3.44L12.14 -0.43L13.47 -0.43L14.08 0.52L14.08 4.3L10.73 4.3L10.73 2.15M20.92 -2.15L20.92 -4.3L17.58 -4.3L17.58 4.3L20.92 4.3L20.92 -0.43L17.58 -0.43M24.42 -2.15L24.42 -4.3L27.77 -4.3L27.77 -1.03L24.42 2.75L24.42 4.3L28.87 4.3"/></g><path d="M6.31 3.68H8.57L7.56 7.27H5.8L6.68 5.66Z" fill="currentColor" stroke="none"/></g></g><g transform="translate(940.35 496.2) rotate(-90)"><clipPath id="c73"><rect x="-2" y="-5.4" width="30.39" height="10.8"/></clipPath><g stroke="#fff" color="#fff" fill="none" stroke-width="2.2" stroke-linejoin="round" stroke-linecap="butt" ><g clip-path="url(#c73)"><path d="M1.1 -2.15L1.1 -4.3L4.45 -4.3L4.45 -1.03L1.1 2.75L1.1 4.3L5.55 4.3M14.08 -2.15L14.08 -4.3L10.73 -4.3L10.73 4.3L14.08 4.3L14.08 -0.43L10.73 -0.43M17.58 2.15L17.58 4.3L20.92 4.3L20.92 -4.3L17.58 -4.3L17.58 0.43L20.92 0.43M25.29 -6.02L25.29 6.02"/></g><path d="M6.31 3.68H8.57L7.56 7.27H5.8L6.68 5.66ZM24.49 -5.4L23 -2.7L24.49 -2.27Z" fill="currentColor" stroke="none"/></g></g><g transform="translate(958.54 496.2) rotate(-90)"><clipPath id="c74"><rect x="-2" y="-5.4" width="32.87" height="10.8"/></clipPath><g stroke="#fff" color="#fff" fill="none" stroke-width="2.2" stroke-linejoin="round" stroke-linecap="butt" ><g clip-path="url(#c74)"><path d="M1.1 -2.15L1.1 -4.3L4.45 -4.3L4.45 -1.03L1.1 2.75L1.1 4.3L5.55 4.3M15.18 -4.3L10.73 -4.3L10.73 -0.6L14.08 -0.6L14.08 4.3L10.73 4.3L10.73 2.15M17.58 -4.3L20.92 -4.3L20.92 4.3L17.58 4.3ZM27.77 -2.15L27.77 -4.3L24.42 -4.3L24.42 4.3L27.77 4.3L27.77 -0.43L24.42 -0.43"/></g><path d="M6.31 3.68H8.57L7.56 7.27H5.8L6.68 5.66Z" fill="currentColor" stroke="none"/></g></g><g transform="translate(976.73 496.2) rotate(-90)"><clipPath id="c75"><rect x="-2" y="-5.4" width="32.19" height="10.8"/></clipPath><g stroke="#fff" color="#fff" fill="none" stroke-width="2.2" stroke-linejoin="round" stroke-linecap="butt" ><g clip-path="url(#c75)"><path d="M1.1 -2.15L1.1 -4.3L4.45 -4.3L4.45 -1.03L1.1 2.75L1.1 4.3L5.55 4.3M10.73 -2.24L10.73 -4.3L13.74 -4.3L13.74 -3.61L11.75 6.88M17.24 -2.15L17.24 -4.3L20.58 -4.3L20.58 -1.03L17.24 2.75L17.24 4.3L21.68 4.3M24.08 -2.24L24.08 -4.3L27.09 -4.3L27.09 -3.61L25.11 6.88"/></g><path d="M6.31 3.68H8.57L7.56 7.27H5.8L6.68 5.66Z" fill="currentColor" stroke="none"/></g></g><g transform="translate(994.92 496.2) rotate(-90)"><clipPath id="c76"><rect x="-2" y="-5.4" width="32.87" height="10.8"/></clipPath><g stroke="#fff" color="#fff" fill="none" stroke-width="2.2" stroke-linejoin="round" stroke-linecap="butt" ><g clip-path="url(#c76)"><path d="M1.1 -2.15L1.1 -4.3L4.45 -4.3L4.45 -1.03L1.1 2.75L1.1 4.3L5.55 4.3M14.08 -2.15L14.08 -4.3L10.73 -4.3L10.73 4.3L14.08 4.3L14.08 -0.43L10.73 -0.43M17.58 -2.15L17.58 -4.3L20.92 -4.3L20.92 -1.03L17.58 2.75L17.58 4.3L22.02 4.3M24.62 -4.3L27.57 -4.3L27.57 -0.3L24.62 -0.3ZM24.42 -0.3L27.77 -0.3L27.77 4.3L24.42 4.3Z"/></g><path d="M6.31 3.68H8.57L7.56 7.27H5.8L6.68 5.66Z" fill="currentColor" stroke="none"/></g></g><g transform="translate(1013.11 496.2) rotate(-90)"><clipPath id="c77"><rect x="-2" y="-5.4" width="30.73" height="10.8"/></clipPath><g stroke="#fff" color="#fff" fill="none" stroke-width="2.2" stroke-linejoin="round" stroke-linecap="butt" ><g clip-path="url(#c77)"><path d="M1.1 -2.15L1.1 -4.3L4.45 -4.3L4.45 -1.03L1.1 2.75L1.1 4.3L5.55 4.3M15.18 -4.3L10.73 -4.3L10.73 -0.6L14.08 -0.6L14.08 4.3L10.73 4.3L10.73 2.15M20.23 -6.02L20.23 6.02M20.23 -6.19L17.58 1.72L22.36 1.72M25.63 -6.02L25.63 6.02"/></g><path d="M6.31 3.68H8.57L7.56 7.27H5.8L6.68 5.66ZM24.83 -5.4L23.34 -2.7L24.83 -2.27Z" fill="currentColor" stroke="none"/></g></g><g transform="translate(1031.3 496.2) rotate(-90)"><clipPath id="c78"><rect x="-2" y="-5.4" width="32.87" height="10.8"/></clipPath><g stroke="#fff" color="#fff" fill="none" stroke-width="2.2" stroke-linejoin="round" stroke-linecap="butt" ><g clip-path="url(#c78)"><path d="M1.1 -2.15L1.1 -4.3L4.45 -4.3L4.45 -1.03L1.1 2.75L1.1 4.3L5.55 4.3M15.18 -4.3L10.73 -4.3L10.73 -0.6L14.08 -0.6L14.08 4.3L10.73 4.3L10.73 2.15M17.58 -2.24L17.58 -4.3L20.58 -4.3L20.58 -3.61L18.6 6.88M26.74 -6.02L26.74 6.02M26.74 -6.19L24.08 1.72L28.87 1.72"/></g><path d="M6.31 3.68H8.57L7.56 7.27H5.8L6.68 5.66Z" fill="currentColor" stroke="none"/></g></g><g transform="translate(1049.49 496.2) rotate(-90)"><clipPath id="c79"><rect x="-2" y="-5.4" width="32.53" height="10.8"/></clipPath><g stroke="#fff" color="#fff" fill="none" stroke-width="2.2" stroke-linejoin="round" stroke-linecap="butt" ><g clip-path="url(#c79)"><path d="M1.1 -2.15L1.1 -4.3L4.45 -4.3L4.45 -1.03L1.1 2.75L1.1 4.3L5.55 4.3M15.18 -4.3L10.73 -4.3L10.73 -0.6L14.08 -0.6L14.08 4.3L10.73 4.3L10.73 2.15M17.58 -2.24L17.58 -4.3L20.58 -4.3L20.58 -3.61L18.6 6.88M27.43 -2.15L27.43 -4.3L24.08 -4.3L24.08 4.3L27.43 4.3L27.43 -0.43L24.08 -0.43"/></g><path d="M6.31 3.68H8.57L7.56 7.27H5.8L6.68 5.66Z" fill="currentColor" stroke="none"/></g></g><g transform="translate(1067.68 496.2) rotate(-90)"><clipPath id="c80"><rect x="-2" y="-5.4" width="32.87" height="10.8"/></clipPath><g stroke="#fff" color="#fff" fill="none" stroke-width="2.2" stroke-linejoin="round" stroke-linecap="butt" ><g clip-path="url(#c80)"><path d="M1.1 -2.15L1.1 -4.3L4.45 -4.3L4.45 -1.03L1.1 2.75L1.1 4.3L5.55 4.3M13.38 -6.02L13.38 6.02M13.38 -6.19L10.73 1.72L15.52 1.72M17.92 -2.24L17.92 -4.3L20.92 -4.3L20.92 -3.61L18.94 6.88M24.42 -2.15L24.42 -4.3L27.77 -4.3L27.77 -1.03L24.42 2.75L24.42 4.3L28.87 4.3"/></g><path d="M6.31 3.68H8.57L7.56 7.27H5.8L6.68 5.66Z" fill="currentColor" stroke="none"/></g></g><g transform="translate(1085.87 496.2) rotate(-90)"><clipPath id="c81"><rect x="-2" y="-5.4" width="33.55" height="10.8"/></clipPath><g stroke="#fff" color="#fff" fill="none" stroke-width="2.2" stroke-linejoin="round" stroke-linecap="butt" ><g clip-path="url(#c81)"><path d="M1.1 -2.15L1.1 -4.3L4.45 -4.3L4.45 -1.03L1.1 2.75L1.1 4.3L5.55 4.3M13.38 -6.02L13.38 6.02M13.38 -6.19L10.73 1.72L15.52 1.72M17.92 -2.15L17.92 -4.3L21.26 -4.3L21.26 -1.03L17.92 2.75L17.92 4.3L22.36 4.3M27.42 -6.02L27.42 6.02M27.42 -6.19L24.76 1.72L29.55 1.72"/></g><path d="M6.31 3.68H8.57L7.56 7.27H5.8L6.68 5.66Z" fill="currentColor" stroke="none"/></g></g><g transform="translate(1104.06 496.2) rotate(-90)"><clipPath id="c82"><rect x="-2" y="-5.4" width="32.87" height="10.8"/></clipPath><g stroke="#fff" color="#fff" fill="none" stroke-width="2.2" stroke-linejoin="round" stroke-linecap="butt" ><g clip-path="url(#c82)"><path d="M1.1 -2.15L1.1 -4.3L4.45 -4.3L4.45 -1.03L1.1 2.75L1.1 4.3L5.55 4.3M10.73 -2.15L10.73 -4.3L14.08 -4.3L14.08 -3.44L12.14 -0.43L13.47 -0.43L14.08 0.52L14.08 4.3L10.73 4.3L10.73 2.15M17.78 -4.3L20.72 -4.3L20.72 -0.3L17.78 -0.3ZM17.58 -0.3L20.92 -0.3L20.92 4.3L17.58 4.3ZM24.42 -2.15L24.42 -4.3L27.77 -4.3L27.77 -1.03L24.42 2.75L24.42 4.3L28.87 4.3"/></g><path d="M6.31 3.68H8.57L7.56 7.27H5.8L6.68 5.66Z" fill="currentColor" stroke="none"/></g></g><g transform="translate(1122.25 496.2) rotate(-90)"><clipPath id="c83"><rect x="-2" y="-5.4" width="33.21" height="10.8"/></clipPath><g stroke="#000" color="#000" fill="none" stroke-width="2.2" stroke-linejoin="round" stroke-linecap="butt" ><g clip-path="url(#c83)"><path d="M1.1 -2.15L1.1 -4.3L4.45 -4.3L4.45 -1.03L1.1 2.75L1.1 4.3L5.55 4.3M13.38 -6.02L13.38 6.02M13.38 -6.19L10.73 1.72L15.52 1.72M17.92 2.15L17.92 4.3L21.26 4.3L21.26 -4.3L17.92 -4.3L17.92 0.43L21.26 0.43M24.76 -2.15L24.76 -4.3L28.11 -4.3L28.11 -1.03L24.76 2.75L24.76 4.3L29.21 4.3"/></g><path d="M6.31 3.68H8.57L7.56 7.27H5.8L6.68 5.66Z" fill="currentColor" stroke="none"/></g></g><g transform="translate(1140.44 496.2) rotate(-90)"><clipPath id="c84"><rect x="-2" y="-5.4" width="32.87" height="10.8"/></clipPath><g stroke="#000" color="#000" fill="none" stroke-width="2.2" stroke-linejoin="round" stroke-linecap="butt" ><g clip-path="url(#c84)"><path d="M1.1 -2.15L1.1 -4.3L4.45 -4.3L4.45 -1.03L1.1 2.75L1.1 4.3L5.55 4.3M10.73 -2.15L10.73 -4.3L14.08 -4.3L14.08 -3.44L12.14 -0.43L13.47 -0.43L14.08 0.52L14.08 4.3L10.73 4.3L10.73 2.15M20.92 -2.15L20.92 -4.3L17.58 -4.3L17.58 4.3L20.92 4.3L20.92 -0.43L17.58 -0.43M24.62 -4.3L27.57 -4.3L27.57 -0.3L24.62 -0.3ZM24.42 -0.3L27.77 -0.3L27.77 4.3L24.42 4.3Z"/></g><path d="M6.31 3.68H8.57L7.56 7.27H5.8L6.68 5.66Z" fill="currentColor" stroke="none"/></g></g><g transform="translate(1158.63 496.2) rotate(-90)"><clipPath id="c85"><rect x="-2" y="-5.4" width="33.21" height="10.8"/></clipPath><g stroke="#000" color="#000" fill="none" stroke-width="2.2" stroke-linejoin="round" stroke-linecap="butt" ><g clip-path="url(#c85)"><path d="M1.1 -2.15L1.1 -4.3L4.45 -4.3L4.45 -1.03L1.1 2.75L1.1 4.3L5.55 4.3M13.38 -6.02L13.38 6.02M13.38 -6.19L10.73 1.72L15.52 1.72M18.12 -4.3L21.06 -4.3L21.06 -0.3L18.12 -0.3ZM17.92 -0.3L21.26 -0.3L21.26 4.3L17.92 4.3ZM24.76 2.15L24.76 4.3L28.11 4.3L28.11 -4.3L24.76 -4.3L24.76 0.43L28.11 0.43"/></g><path d="M6.31 3.68H8.57L7.56 7.27H5.8L6.68 5.66Z" fill="currentColor" stroke="none"/></g></g><g transform="translate(1176.82 496.2) rotate(-90)"><clipPath id="c86"><rect x="-2" y="-5.4" width="30.39" height="10.8"/></clipPath><g stroke="#000" color="#000" fill="none" stroke-width="2.2" stroke-linejoin="round" stroke-linecap="butt" ><g clip-path="url(#c86)"><path d="M1.1 -2.15L1.1 -4.3L4.45 -4.3L4.45 -1.03L1.1 2.75L1.1 4.3L5.55 4.3M14.08 -2.15L14.08 -4.3L10.73 -4.3L10.73 4.3L14.08 4.3L14.08 -0.43L10.73 -0.43M17.78 -4.3L20.72 -4.3L20.72 -0.3L17.78 -0.3ZM17.58 -0.3L20.92 -0.3L20.92 4.3L17.58 4.3ZM25.29 -6.02L25.29 6.02"/></g><path d="M6.31 3.68H8.57L7.56 7.27H5.8L6.68 5.66ZM24.49 -5.4L23 -2.7L24.49 -2.27Z" fill="currentColor" stroke="none"/></g></g><g transform="translate(1195.01 496.2) rotate(-90)"><clipPath id="c87"><rect x="-2" y="-5.4" width="31.04" height="10.8"/></clipPath><g stroke="#000" color="#000" fill="none" stroke-width="2.2" stroke-linejoin="round" stroke-linecap="butt" ><g clip-path="url(#c87)"><path d="M2.3 -6.02L2.3 6.02M8.91 -4.3L12.25 -4.3L12.25 4.3L8.91 4.3ZM15.95 -4.3L18.9 -4.3L18.9 -0.3L15.95 -0.3ZM15.75 -0.3L19.1 -0.3L19.1 4.3L15.75 4.3ZM25.94 -2.15L25.94 -4.3L22.6 -4.3L22.6 4.3L25.94 4.3L25.94 -0.43L22.6 -0.43"/></g><path d="M1.5 -5.4L0 -2.7L1.5 -2.27ZM4.48 3.68H6.75L5.73 7.27H3.97L4.85 5.66Z" fill="currentColor" stroke="none"/></g></g><rect x="1208.95" y="489.8" width="9.2" height="4.8" rx="1" fill="none" stroke="#000" stroke-width="1.5"/><rect x="1227.14" y="489.8" width="9.2" height="4.8" rx="1" fill="none" stroke="#000" stroke-width="1.5"/><g font-size="13.33" font-weight="bold" fill="#d9d9d9" text-anchor="end"><text transform="translate(18.21 512.3) rotate(-90)">dic-18</text><text transform="translate(36.4 512.3) rotate(-90)">ene-19</text><text transform="translate(54.59 512.3) rotate(-90)">feb-19</text><text transform="translate(72.78 512.3) rotate(-90)">mar-19</text><text transform="translate(90.97 512.3) rotate(-90)">abr-19</text><text transform="translate(109.16 512.3) rotate(-90)">may-19</text><text transform="translate(127.35 512.3) rotate(-90)">jun-19</text><text transform="translate(145.54 512.3) rotate(-90)">jul-19</text><text transform="translate(163.73 512.3) rotate(-90)">ago-19</text><text transform="translate(181.92 512.3) rotate(-90)">sep-19</text><text transform="translate(200.11 512.3) rotate(-90)">oct-19</text><text transform="translate(218.3 512.3) rotate(-90)">nov-19</text><text transform="translate(236.49 512.3) rotate(-90)">dic-19</text><text transform="translate(254.68 512.3) rotate(-90)">ene-20</text><text transform="translate(272.87 512.3) rotate(-90)">feb-20</text><text transform="translate(291.06 512.3) rotate(-90)">mar-20</text><text transform="translate(309.25 512.3) rotate(-90)">abr-20</text><text transform="translate(327.44 512.3) rotate(-90)">may-20</text><text transform="translate(345.63 512.3) rotate(-90)">jun-20</text><text transform="translate(363.82 512.3) rotate(-90)">jul-20</text><text transform="translate(382.01 512.3) rotate(-90)">ago-20</text><text transform="translate(400.2 512.3) rotate(-90)">sep-20</text><text transform="translate(418.39 512.3) rotate(-90)">oct-20</text><text transform="translate(436.58 512.3) rotate(-90)">nov-20</text><text transform="translate(454.77 512.3) rotate(-90)">dic-20</text><text transform="translate(472.96 512.3) rotate(-90)">ene-21</text><text transform="translate(491.15 512.3) rotate(-90)">feb-21</text><text transform="translate(509.34 512.3) rotate(-90)">mar-21</text><text transform="translate(527.53 512.3) rotate(-90)">abr-21</text><text transform="translate(545.72 512.3) rotate(-90)">may-21</text><text transform="translate(563.91 512.3) rotate(-90)">jun-21</text><text transform="translate(582.1 512.3) rotate(-90)">jul-21</text><text transform="translate(600.29 512.3) rotate(-90)">ago-21</text><text transform="translate(618.48 512.3) rotate(-90)">sep-21</text><text transform="translate(636.67 512.3) rotate(-90)">oct-21</text><text transform="translate(654.86 512.3) rotate(-90)">nov-21</text><text transform="translate(673.05 512.3) rotate(-90)">dic-21</text><text transform="translate(691.24 512.3) rotate(-90)">ene-22</text><text transform="translate(709.43 512.3) rotate(-90)">feb-22</text><text transform="translate(727.62 512.3) rotate(-90)">mar-22</text><text transform="translate(745.81 512.3) rotate(-90)">abr-22</text><text transform="translate(764 512.3) rotate(-90)">may-22</text><text transform="translate(782.19 512.3) rotate(-90)">jun-22</text><text transform="translate(800.38 512.3) rotate(-90)">jul-22</text><text transform="translate(818.57 512.3) rotate(-90)">ago-22</text><text transform="translate(836.76 512.3) rotate(-90)">sep-22</text><text transform="translate(854.95 512.3) rotate(-90)">oct-22</text><text transform="translate(873.14 512.3) rotate(-90)">nov-22</text><text transform="translate(891.33 512.3) rotate(-90)">dic-22</text><text transform="translate(909.52 512.3) rotate(-90)">ene-23</text><text transform="translate(927.71 512.3) rotate(-90)">feb-23</text><text transform="translate(945.9 512.3) rotate(-90)">mar-23</text><text transform="translate(964.09 512.3) rotate(-90)">abr-23</text><text transform="translate(982.28 512.3) rotate(-90)">may-23</text><text transform="translate(1000.47 512.3) rotate(-90)">jun-23</text><text transform="translate(1018.66 512.3) rotate(-90)">jul-23</text><text transform="translate(1036.85 512.3) rotate(-90)">ago-23</text><text transform="translate(1055.04 512.3) rotate(-90)">sep-23</text><text transform="translate(1073.23 512.3) rotate(-90)">oct-23</text><text transform="translate(1091.42 512.3) rotate(-90)">nov-23</text><text transform="translate(1109.61 512.3) rotate(-90)">dic-23</text><text transform="translate(1127.8 512.3) rotate(-90)">ene-24</text><text transform="translate(1145.99 512.3) rotate(-90)">feb-24</text><text transform="translate(1164.18 512.3) rotate(-90)">mar-24</text><text transform="translate(1182.37 512.3) rotate(-90)">abr-24</text><text transform="translate(1200.56 512.3) rotate(-90)">may-24</text><text transform="translate(1218.75 512.3) rotate(-90)">jun-24</text><text transform="translate(1236.94 512.3) rotate(-90)">jul-24</text><text transform="translate(1255.13 512.3) rotate(-90)">ago-24</text><text transform="translate(1273.32 512.3) rotate(-90)">sep-24</text></g><rect x="26" y="370.2" width="185.4" height="68.2" fill="#f8cbad" stroke="#000" stroke-width="1.5"/><clipPath id="c88"><rect x="67.5" y="386.2" width="104.8" height="36.2"/></clipPath><g stroke="#000" color="#000" fill="none" stroke-width="5.97" stroke-linejoin="round" stroke-linecap="butt" ><g clip-path="url(#c88)"><path d="M72.49 396.74L72.49 389.19L83.94 389.19L83.94 392.21L77.3 402.79L81.88 402.79L83.94 406.11L83.94 419.41L72.49 419.41L72.49 411.86M105.53 396.74L105.53 389.19L94.07 389.19L94.07 419.41L105.53 419.41L105.53 402.79L94.07 402.79M134.96 396.74L134.96 389.19L123.51 389.19L123.51 419.41L134.96 419.41L134.96 402.79L123.51 402.79M156.55 396.74L156.55 389.19L145.09 389.19L145.09 419.41L156.55 419.41L156.55 402.79L145.09 402.79M167.31 383.14L167.31 425.46"/></g><path d="M110.89 417.74H117.04L114.3 427.48H109.52L111.91 423.12ZM164.63 386.2L161.79 395.25L164.63 396.7Z" fill="currentColor" stroke="none"/></g><rect x="250.7" y="373" width="185.3" height="68.4" fill="#f4b183" stroke="#000" stroke-width="1.2"/><clipPath id="c89"><rect x="288.3" y="389.7" width="111.7" height="36.2"/></clipPath><g stroke="#000" color="#000" fill="none" stroke-width="5.97" stroke-linejoin="round" stroke-linecap="butt" ><g clip-path="url(#c89)"><path d="M293.29 400.24L293.29 392.69L304.37 392.69L304.37 395.71L297.94 406.29L302.38 406.29L304.37 409.61L304.37 422.91L293.29 422.91L293.29 415.36M325.59 400.24L325.59 392.69L314.51 392.69L314.51 422.91L325.59 422.91L325.59 406.29L314.51 406.29M343.58 399.94L343.58 392.69L353.62 392.69L353.62 395.1L346.99 431.98M363.75 399.94L363.75 392.69L373.79 392.69L373.79 395.1L367.17 431.98M383.93 400.24L383.93 392.69L395.01 392.69L395.01 395.71L388.58 406.29L393.02 406.29L395.01 409.61L395.01 422.91L383.93 422.91L383.93 415.36"/></g><path d="M330.96 421.24H337.11L334.36 430.98H329.59L331.97 426.62Z" fill="currentColor" stroke="none"/></g><rect x="475.2" y="374.5" width="185.3" height="67.7" fill="#ed7d31" stroke="#000" stroke-width="1.2"/><clipPath id="c90"><rect x="511.6" y="390.5" width="113.4" height="36.2"/></clipPath><g stroke="#000" color="#000" fill="none" stroke-width="5.97" stroke-linejoin="round" stroke-linecap="butt" ><g clip-path="url(#c90)"><path d="M516.59 401.04L516.59 393.49L527.8 393.49L527.8 396.51L521.3 407.09L525.79 407.09L527.8 410.41L527.8 423.71L516.59 423.71L516.59 416.16M552.14 393.49L537.94 393.49L537.94 406.48L549.16 406.48L549.16 423.71L537.94 423.71L537.94 416.16M567.14 400.74L567.14 393.49L577.31 393.49L577.31 395.9L570.6 432.78M587.44 393.49L598.66 393.49L598.66 423.71L587.44 423.71ZM608.8 393.49L620.01 393.49L620.01 423.71L608.8 423.71Z"/></g><path d="M554.52 422.04H560.68L557.93 431.78H553.15L555.54 427.42Z" fill="currentColor" stroke="none"/></g><rect x="687.2" y="378.4" width="185.4" height="67.8" fill="#843c0c" stroke="#000" stroke-width="1.2"/><clipPath id="c91"><rect x="723.5" y="394.5" width="115.5" height="36.2"/></clipPath><g stroke="#fce4d6" color="#fce4d6" fill="none" stroke-width="5.97" stroke-linejoin="round" stroke-linecap="butt" ><g clip-path="url(#c91)"><path d="M728.49 405.04L728.49 397.49L740.13 397.49L740.13 400.51L733.38 411.09L738.03 411.09L740.13 414.41L740.13 427.71L728.49 427.71L728.49 420.16M750.27 405.04L750.27 397.49L761.91 397.49L761.91 400.51L755.16 411.09L759.81 411.09L761.91 414.41L761.91 427.71L750.27 427.71L750.27 420.16M779.89 405.04L779.89 397.49L791.53 397.49L791.53 408.97L779.89 422.27L779.89 427.71L794.52 427.71M802.37 397.49L812.61 397.49L812.61 411.54L802.37 411.54ZM801.67 411.54L813.31 411.54L813.31 427.71L801.67 427.71ZM823.45 404.74L823.45 397.49L834.01 397.49L834.01 399.9L827.04 436.78"/></g><path d="M767.28 426.04H773.43L770.68 435.78H765.9L768.29 431.42Z" fill="currentColor" stroke="none"/></g><rect x="930.5" y="384.5" width="156" height="57.7" fill="#c80000" stroke="#7a0000" stroke-width="1.0"/><rect x="1085.9" y="384.5" width="1" height="57.7" fill="#f3c9c9" opacity=".8"/><clipPath id="c92"><rect x="941.4" y="394" width="133.6" height="40.8"/></clipPath><g stroke="#fff" color="#fff" fill="none" stroke-width="6.73" stroke-linejoin="round" stroke-linecap="butt" ><g clip-path="url(#c92)"><path d="M946.77 405.88L946.77 397.37L960.43 397.37L960.43 400.77L952.51 412.7L957.97 412.7L960.43 416.44L960.43 431.43L946.77 431.43L946.77 422.92M971.86 397.37L985.52 397.37L985.52 431.43L971.86 431.43ZM1022.82 397.37L1005.79 397.37L1005.79 412.02L1019.45 412.02L1019.45 431.43L1005.79 431.43L1005.79 422.92M1047.91 397.37L1030.88 397.37L1030.88 412.02L1044.54 412.02L1044.54 431.43L1030.88 431.43L1030.88 422.92M1056.79 397.37L1068.81 397.37L1068.81 413.21L1056.79 413.21ZM1055.97 413.21L1069.63 413.21L1069.63 431.43L1055.97 431.43Z"/></g><path d="M991.57 429.55H998.5L995.41 440.52H990.02L992.71 435.61Z" fill="currentColor" stroke="none"/></g><rect x="1119.5" y="386" width="151" height="56.7" fill="#f8cbad" stroke="#000" stroke-width="1.4"/><clipPath id="c93"><rect x="1168.3" y="400.3" width="56.2" height="29.5"/></clipPath><g stroke="#000" color="#000" fill="none" stroke-width="4.87" stroke-linejoin="round" stroke-linecap="butt" ><g clip-path="url(#c93)"><path d="M1173.7 397.81L1173.7 432.29M1181.07 397.81L1181.07 432.29M1196.86 397.81L1196.86 432.29M1204.22 397.81L1204.22 432.29M1220.07 408.89L1220.07 402.73L1211.63 402.73L1211.63 427.37L1220.07 427.37L1220.07 413.82L1211.63 413.82"/></g><path d="M1171.57 400.3L1169.2 407.68L1171.57 408.86ZM1178.93 400.3L1176.57 407.68L1178.93 408.86ZM1186.29 426H1191.3L1189.06 433.94H1185.17L1187.11 430.38ZM1194.72 400.3L1192.36 407.68L1194.72 408.86ZM1202.09 400.3L1199.72 407.68L1202.09 408.86Z" fill="currentColor" stroke="none"/></g>
<rect x="26.3" y="597" width="184.4" height="60" fill="#fce4d6"/><rect x="208.7" y="597" width="2" height="60" fill="#f4b183"/><clipPath id="c94"><rect x="96.3" y="606" width="44.1" height="26.7"/></clipPath><g stroke="#000" color="#000" fill="none" stroke-width="4.4" stroke-linejoin="round" stroke-linecap="butt" ><g clip-path="url(#c94)"><path d="M102.35 603.74L102.35 634.96M109.05 608.2L118.89 608.2L118.89 630.5L109.05 630.5ZM126.36 608.2L136.2 608.2L136.2 630.5L126.36 630.5Z"/></g><path d="M100.45 606L98.28 612.67L100.45 613.74Z" fill="currentColor" stroke="none"/></g><rect x="248.4" y="595.8" width="186" height="60" fill="#f4b183"/><rect x="432.4" y="595.8" width="2" height="60" fill="#ed7d31"/><clipPath id="c95"><rect x="323" y="605.8" width="36" height="26.9"/></clipPath><g stroke="#000" color="#000" fill="none" stroke-width="4.4" stroke-linejoin="round" stroke-linecap="butt" ><g clip-path="url(#c95)"><path d="M329.19 603.5L329.19 635M335.91 608L346.09 608L346.09 630.5L335.91 630.5ZM354.8 603.5L354.8 635"/></g><path d="M327.29 605.8L325 612.52L327.29 613.6ZM352.9 605.8L350.61 612.52L352.9 613.6Z" fill="currentColor" stroke="none"/></g><rect x="481.2" y="594" width="183.6" height="60" fill="#ed7d31"/><rect x="662.8" y="594" width="2" height="60" fill="#843c0c"/><clipPath id="c96"><rect x="557.7" y="604" width="33.3" height="26.8"/></clipPath><g stroke="#000" color="#000" fill="none" stroke-width="4.4" stroke-linejoin="round" stroke-linecap="butt" ><g clip-path="url(#c96)"><path d="M561.9 623L561.9 628.6L570.61 628.6L570.61 606.2L561.9 606.2L561.9 618.52L570.61 618.52M578.61 606.2L586.28 606.2L586.28 616.62L578.61 616.62ZM578.09 616.62L586.8 616.62L586.8 628.6L578.09 628.6Z"/></g></g><rect x="703.8" y="594.7" width="185.2" height="60" fill="#843c0c"/><rect x="887" y="594.7" width="2" height="60" fill="#c00000"/><clipPath id="c97"><rect x="782" y="603.9" width="28" height="26.6"/></clipPath><g stroke="#fff" color="#fff" fill="none" stroke-width="4.4" stroke-linejoin="round" stroke-linecap="butt" ><g clip-path="url(#c97)"><path d="M786.2 622.75L786.2 628.3L796.89 628.3L796.89 606.1L786.2 606.1L786.2 618.31L796.89 618.31M805.8 601.66L805.8 632.74"/></g><path d="M803.9 603.9L801.38 610.55L803.9 611.61Z" fill="currentColor" stroke="none"/></g><rect x="905.8" y="594.7" width="186.2" height="60" fill="#c00000"/><rect x="1090" y="594.7" width="2" height="60" fill="#fce4d6"/><clipPath id="c98"><rect x="982" y="603.9" width="35" height="26.6"/></clipPath><g stroke="#fff" color="#fff" fill="none" stroke-width="4.4" stroke-linejoin="round" stroke-linecap="butt" ><g clip-path="url(#c98)"><path d="M986.75 606.1L994.81 606.1L994.81 616.42L986.75 616.42ZM986.2 616.42L995.36 616.42L995.36 628.3L986.2 628.3ZM1010 601.66L1010 632.74M1010 601.22L1002.81 621.64L1015 621.64"/></g></g><rect x="1105.6" y="594.7" width="174.4" height="60" fill="#fce4d6"/><clipPath id="c99"><rect x="1181.7" y="603.9" width="33.8" height="26.6"/></clipPath><g stroke="#000" color="#000" fill="none" stroke-width="4.4" stroke-linejoin="round" stroke-linecap="butt" ><g clip-path="url(#c99)"><path d="M1186.44 606.1L1194.33 606.1L1194.33 616.42L1186.44 616.42ZM1185.9 616.42L1194.87 616.42L1194.87 628.3L1185.9 628.3ZM1202.33 611.65L1202.33 606.1L1211.3 606.1L1211.3 608.32L1206.1 616.09L1209.69 616.09L1211.3 618.53L1211.3 628.3L1202.33 628.3L1202.33 622.75"/></g></g>
</svg></body></html>
